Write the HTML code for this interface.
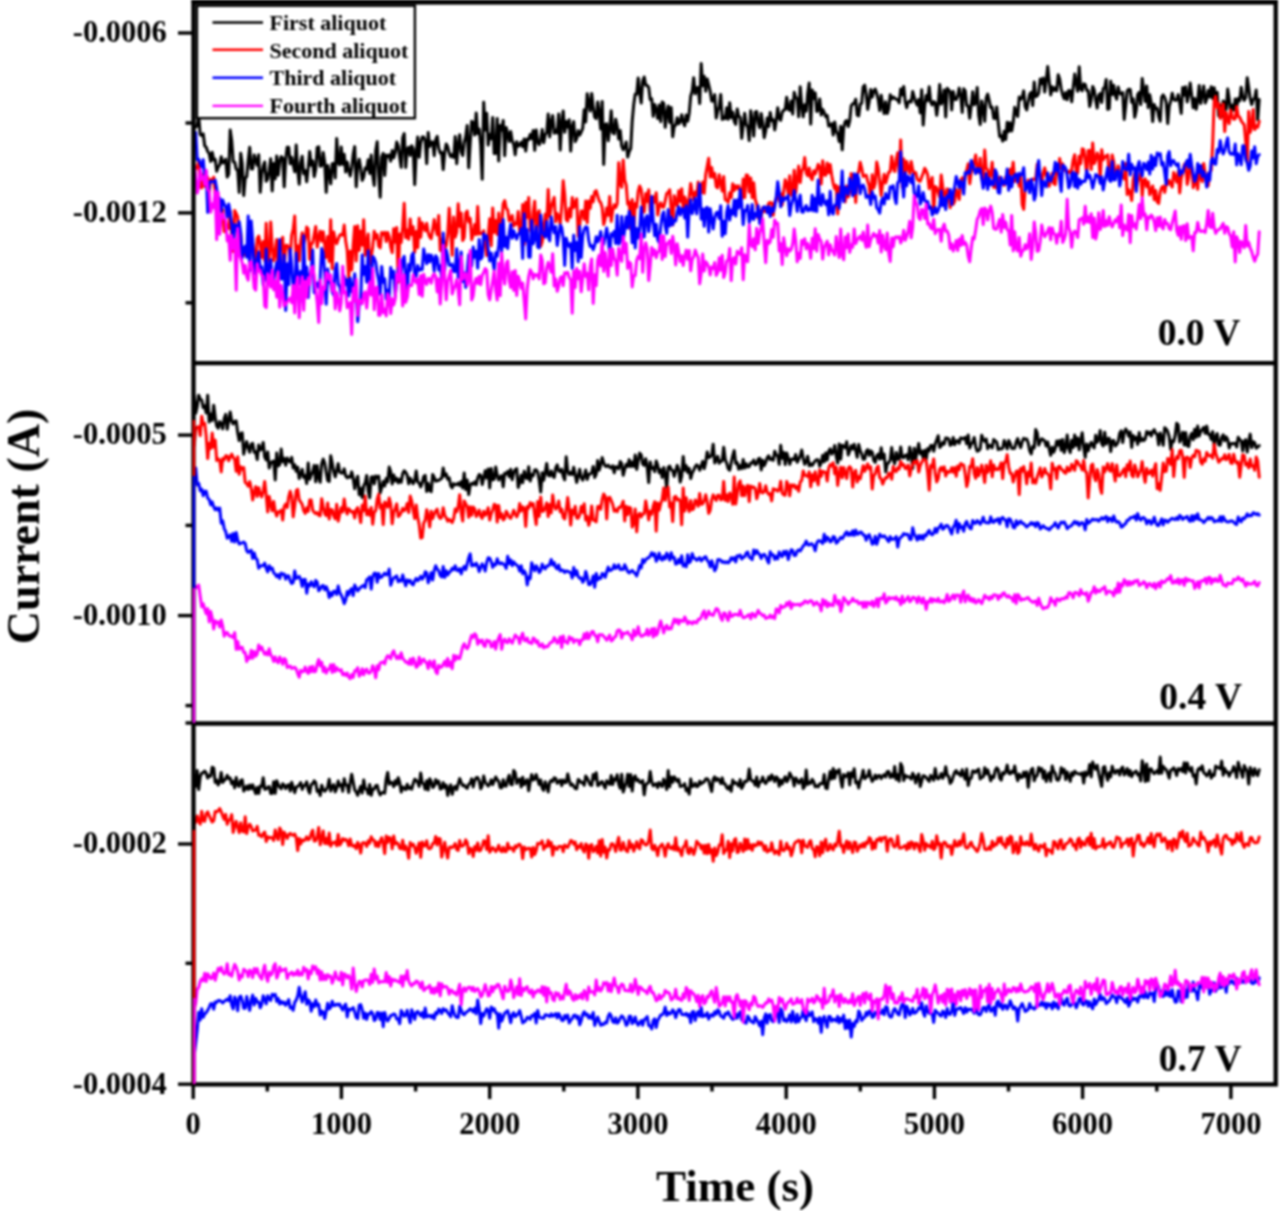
<!DOCTYPE html>
<html>
<head>
<meta charset="utf-8">
<style>
html,body{margin:0;padding:0;background:#fff;}
body{width:1280px;height:1211px;overflow:hidden;position:relative;}
svg{display:block;position:absolute;left:-10px;top:-10px;filter:blur(0.8px);}
text{font-family:"Liberation Serif",serif;font-weight:bold;fill:#000;}
</style>
</head>
<body>
<svg width="1300" height="1231" viewBox="-10 -10 1300 1231">
<defs>
<clipPath id="c1"><rect x="193.5" y="4.6" width="1080" height="356.5"/></clipPath>
<clipPath id="c2"><rect x="194" y="365" width="1080" height="357"/></clipPath>
<clipPath id="c3"><rect x="194" y="725.5" width="1080" height="357"/></clipPath>
</defs>
<rect x="-10" y="-10" width="1300" height="1231" fill="#fff"/>
<!-- data -->
<g fill="none" stroke-width="3.0" stroke-linejoin="round" stroke-linecap="round">
<path clip-path="url(#c1)" stroke="#000" d="M194.2 126.0L195.7 127.1 197.2 125.6 198.7 116.1 200.2 134.5 201.7 135.5 203.2 133.8 204.7 145.8 206.2 147.2 207.7 151.6 209.2 153.4 210.7 161.4 212.2 152.3 213.7 159.9 215.2 159.4 216.7 171.2 218.2 166.9 219.7 165.1 221.2 156.7 222.7 162.9 224.2 162.4 225.7 159.2 227.2 177.1 228.7 174.1 230.2 130.1 231.7 140.7 233.2 161.7 234.7 162.1 236.2 169.1 237.7 169.9 239.2 192.4 240.7 153.2 242.2 163.4 243.7 195.5 245.2 178.1 246.7 176.7 248.2 160.6 249.7 147.3 251.2 168.8 252.7 168.9 254.2 155.0 255.7 160.2 257.2 165.3 258.7 154.8 260.2 192.3 261.7 174.2 263.2 166.3 264.7 162.0 266.2 181.3 267.7 178.9 269.2 170.4 270.7 158.7 272.2 191.0 273.7 163.5 275.2 178.8 276.7 155.9 278.2 175.2 279.7 161.3 281.2 156.6 282.7 158.1 284.2 186.8 285.7 159.0 287.2 147.2 288.7 147.3 290.2 163.8 291.7 157.3 293.2 164.8 294.7 171.8 296.2 145.1 297.7 170.3 299.2 184.2 300.7 162.5 302.2 156.3 303.7 173.7 305.2 170.5 306.7 181.7 308.2 168.1 309.7 151.6 311.2 165.3 312.7 160.9 314.2 176.6 315.7 169.1 317.2 147.3 318.7 146.8 320.2 166.2 321.7 165.9 323.2 152.4 324.7 162.4 326.2 192.3 327.7 165.4 329.2 173.4 330.7 183.8 332.2 163.7 333.7 163.5 335.2 177.9 336.7 138.6 338.2 162.8 339.7 164.8 341.2 147.0 342.7 164.3 344.2 154.3 345.7 172.0 347.2 162.0 348.7 170.0 350.2 176.0 351.7 168.0 353.2 154.3 354.7 146.6 356.2 186.8 357.7 165.7 359.2 159.3 360.7 168.4 362.2 180.4 363.7 176.9 365.2 167.9 366.7 169.4 368.2 159.8 369.7 173.4 371.2 155.0 372.7 174.9 374.2 185.4 375.7 150.8 377.2 141.7 378.7 176.2 380.2 197.2 381.7 157.0 383.2 153.4 384.7 175.4 386.2 155.0 387.7 156.6 389.2 154.9 390.7 161.1 392.2 150.6 393.7 157.8 395.2 152.6 396.7 142.1 398.2 145.8 399.7 157.2 401.2 167.3 402.7 137.8 404.2 133.6 405.7 167.5 407.2 149.2 408.7 147.3 410.2 155.5 411.7 145.8 413.2 149.0 414.7 184.6 416.2 152.8 417.7 137.1 419.2 157.3 420.7 143.2 422.2 137.0 423.7 137.0 425.2 140.7 426.7 163.6 428.2 132.6 429.7 146.4 431.2 141.9 432.7 142.1 434.2 155.7 435.7 139.6 437.2 136.4 438.7 148.1 440.2 153.0 441.7 152.4 443.2 169.6 444.7 152.5 446.2 144.1 447.7 146.8 449.2 153.1 450.7 156.7 452.2 154.7 453.7 157.5 455.2 136.5 456.7 163.7 458.2 144.4 459.7 134.7 461.2 151.6 462.7 155.5 464.2 142.3 465.7 136.7 467.2 125.4 468.7 167.8 470.2 143.2 471.7 121.3 473.2 122.6 474.7 135.0 476.2 112.9 477.7 133.6 479.2 129.1 480.7 145.2 482.2 179.3 483.7 102.3 485.2 130.0 486.7 113.3 488.2 145.1 489.7 134.5 491.2 138.8 492.7 117.5 494.2 153.6 495.7 153.5 497.2 118.6 498.7 161.0 500.2 125.4 501.7 130.1 503.2 120.6 504.7 155.7 506.2 127.5 507.7 133.7 509.2 141.5 510.7 131.6 512.2 140.9 513.7 144.4 515.2 154.7 516.7 141.7 518.2 146.2 519.7 145.2 521.2 142.2 522.7 146.7 524.2 138.9 525.7 151.1 527.2 139.0 528.7 139.7 530.2 134.5 531.7 138.7 533.2 130.4 534.7 150.3 536.2 130.0 537.7 141.7 539.2 144.7 540.7 140.0 542.2 129.6 543.7 142.8 545.2 134.4 546.7 132.7 548.2 114.0 549.7 136.9 551.2 121.7 552.7 115.6 554.2 133.2 555.7 130.3 557.2 132.9 558.7 114.1 560.2 150.1 561.7 123.2 563.2 111.0 564.7 132.2 566.2 121.4 567.7 127.2 569.2 119.8 570.7 151.1 572.2 126.5 573.7 121.6 575.2 141.7 576.7 138.7 578.2 130.6 579.7 135.1 581.2 132.0 582.7 128.4 584.2 109.7 585.7 121.9 587.2 93.7 588.7 102.1 590.2 110.9 591.7 93.4 593.2 107.6 594.7 117.2 596.2 118.6 597.7 102.1 599.2 112.6 600.7 129.1 602.2 101.4 603.7 164.5 605.2 124.5 606.7 123.9 608.2 140.7 609.7 128.5 611.2 110.8 612.7 132.7 614.2 133.9 615.7 119.2 617.2 126.2 618.7 139.0 620.2 130.4 621.7 146.0 623.2 149.7 624.7 146.8 626.2 142.0 627.7 157.0 629.2 151.7 630.7 148.7 632.2 121.2 633.7 104.8 635.2 94.3 636.7 94.2 638.2 78.0 639.7 93.1 641.2 103.1 642.7 80.7 644.2 77.0 645.7 85.3 647.2 85.5 648.7 87.4 650.2 99.6 651.7 98.9 653.2 116.3 654.7 104.4 656.2 109.3 657.7 118.4 659.2 105.1 660.7 121.7 662.2 102.0 663.7 103.3 665.2 127.3 666.7 114.0 668.2 106.0 669.7 122.4 671.2 107.5 672.7 136.7 674.2 126.4 675.7 124.9 677.2 117.8 678.7 123.8 680.2 121.6 681.7 114.7 683.2 122.2 684.7 125.8 686.2 115.1 687.7 121.1 689.2 113.2 690.7 96.2 692.2 91.3 693.7 77.7 695.2 93.8 696.7 87.7 698.2 87.6 699.7 103.5 701.2 63.5 702.7 85.8 704.2 76.2 705.7 91.2 707.2 78.9 708.7 84.9 710.2 91.3 711.7 101.0 713.2 101.1 714.7 94.6 716.2 118.1 717.7 111.1 719.2 106.6 720.7 94.4 722.2 119.5 723.7 117.1 725.2 118.7 726.7 107.7 728.2 119.3 729.7 102.7 731.2 117.5 732.7 112.1 734.2 121.2 735.7 124.3 737.2 108.9 738.7 116.4 740.2 117.3 741.7 138.3 743.2 125.6 744.7 113.3 746.2 124.5 747.7 126.9 749.2 140.6 750.7 110.7 752.2 120.6 753.7 136.1 755.2 112.1 756.7 111.5 758.2 122.8 759.7 127.8 761.2 113.4 762.7 123.0 764.2 137.7 765.7 130.8 767.2 118.1 768.7 126.4 770.2 112.5 771.7 120.6 773.2 119.6 774.7 129.9 776.2 120.7 777.7 107.8 779.2 118.4 780.7 120.3 782.2 112.4 783.7 110.1 785.2 109.5 786.7 97.2 788.2 109.1 789.7 110.4 791.2 100.9 792.7 114.1 794.2 92.3 795.7 97.5 797.2 98.7 798.7 116.8 800.2 86.8 801.7 105.1 803.2 116.7 804.7 104.8 806.2 111.1 807.7 93.7 809.2 83.0 810.7 124.1 812.2 90.0 813.7 98.5 815.2 92.9 816.7 111.4 818.2 110.4 819.7 99.0 821.2 115.0 822.7 109.4 824.2 112.5 825.7 116.8 827.2 115.4 828.7 126.0 830.2 125.8 831.7 123.7 833.2 135.1 834.7 122.0 836.2 131.5 837.7 134.0 839.2 141.5 840.7 126.2 842.2 149.8 843.7 127.8 845.2 121.5 846.7 120.6 848.2 126.5 849.7 120.8 851.2 105.9 852.7 103.8 854.2 103.8 855.7 99.2 857.2 115.1 858.7 115.8 860.2 104.3 861.7 103.2 863.2 86.7 864.7 85.2 866.2 94.3 867.7 109.4 869.2 101.5 870.7 89.6 872.2 97.2 873.7 91.4 875.2 89.0 876.7 93.3 878.2 99.6 879.7 110.5 881.2 95.3 882.7 106.1 884.2 113.6 885.7 101.7 887.2 113.6 888.7 108.7 890.2 94.8 891.7 99.0 893.2 97.0 894.7 98.1 896.2 99.2 897.7 99.6 899.2 102.8 900.7 89.1 902.2 94.9 903.7 86.4 905.2 101.3 906.7 107.7 908.2 102.2 909.7 101.0 911.2 102.1 912.7 91.6 914.2 97.1 915.7 102.2 917.2 105.2 918.7 99.5 920.2 112.8 921.7 89.8 923.2 125.1 924.7 105.7 926.2 95.5 927.7 100.6 929.2 86.8 930.7 102.2 932.2 104.9 933.7 101.5 935.2 102.8 936.7 115.3 938.2 104.4 939.7 84.5 941.2 104.1 942.7 100.7 944.2 90.0 945.7 117.0 947.2 88.3 948.7 90.1 950.2 91.7 951.7 109.9 953.2 91.5 954.7 99.2 956.2 99.6 957.7 96.0 959.2 88.1 960.7 95.7 962.2 112.4 963.7 88.8 965.2 90.8 966.7 105.5 968.2 105.9 969.7 118.2 971.2 105.7 972.7 91.7 974.2 104.7 975.7 102.8 977.2 87.5 978.7 115.2 980.2 124.4 981.7 101.0 983.2 108.3 984.7 121.3 986.2 97.9 987.7 94.1 989.2 100.6 990.7 107.6 992.2 107.3 993.7 118.3 995.2 118.5 996.7 107.0 998.2 122.5 999.7 136.6 1001.2 135.9 1002.7 141.1 1004.2 131.2 1005.7 139.4 1007.2 122.3 1008.7 131.4 1010.2 122.7 1011.7 131.1 1013.2 122.4 1014.7 107.3 1016.2 113.2 1017.7 116.5 1019.2 97.0 1020.7 99.5 1022.2 97.0 1023.7 90.9 1025.2 106.7 1026.7 109.9 1028.2 101.7 1029.7 94.3 1031.2 92.4 1032.7 105.6 1034.2 82.0 1035.7 96.5 1037.2 95.9 1038.7 93.1 1040.2 79.1 1041.7 83.6 1043.2 78.0 1044.7 92.0 1046.2 80.3 1047.7 66.6 1049.2 81.4 1050.7 94.9 1052.2 86.8 1053.7 90.4 1055.2 87.7 1056.7 90.8 1058.2 74.8 1059.7 79.3 1061.2 89.0 1062.7 94.9 1064.2 98.8 1065.7 92.6 1067.2 99.7 1068.7 90.4 1070.2 90.9 1071.7 101.8 1073.2 87.2 1074.7 74.1 1076.2 83.5 1077.7 91.2 1079.2 66.8 1080.7 89.2 1082.2 90.7 1083.7 83.8 1085.2 84.3 1086.7 90.5 1088.2 90.6 1089.7 106.5 1091.2 100.0 1092.7 86.4 1094.2 90.0 1095.7 100.4 1097.2 108.1 1098.7 95.4 1100.2 93.5 1101.7 102.4 1103.2 88.6 1104.7 87.7 1106.2 79.5 1107.7 109.3 1109.2 108.6 1110.7 81.2 1112.2 94.6 1113.7 85.2 1115.2 95.2 1116.7 99.2 1118.2 87.0 1119.7 93.3 1121.2 94.3 1122.7 92.5 1124.2 119.4 1125.7 105.5 1127.2 91.0 1128.7 89.2 1130.2 89.5 1131.7 102.3 1133.2 98.8 1134.7 117.3 1136.2 110.4 1137.7 94.5 1139.2 92.4 1140.7 104.6 1142.2 78.6 1143.7 89.4 1145.2 101.6 1146.7 85.9 1148.2 107.7 1149.7 94.8 1151.2 102.6 1152.7 121.6 1154.2 104.6 1155.7 108.7 1157.2 108.3 1158.7 116.5 1160.2 121.2 1161.7 97.0 1163.2 94.9 1164.7 97.4 1166.2 102.5 1167.7 123.5 1169.2 106.4 1170.7 101.1 1172.2 93.2 1173.7 99.1 1175.2 100.5 1176.7 99.8 1178.2 94.6 1179.7 102.9 1181.2 113.4 1182.7 87.5 1184.2 95.3 1185.7 86.8 1187.2 101.9 1188.7 94.4 1190.2 83.1 1191.7 95.4 1193.2 107.8 1194.7 98.5 1196.2 109.3 1197.7 100.6 1199.2 85.5 1200.7 103.4 1202.2 94.8 1203.7 86.0 1205.2 102.9 1206.7 99.2 1208.2 90.4 1209.7 97.0 1211.2 86.7 1212.7 98.6 1214.2 87.7 1215.7 102.8 1217.2 92.2 1218.7 116.0 1220.2 104.9 1221.7 116.5 1223.2 101.0 1224.7 102.9 1226.2 109.3 1227.7 89.1 1229.2 99.2 1230.7 111.2 1232.2 105.1 1233.7 110.1 1235.2 99.0 1236.7 106.7 1238.2 98.4 1239.7 100.8 1241.2 87.2 1242.7 96.7 1244.2 100.4 1245.7 97.6 1247.2 77.7 1248.7 87.4 1250.2 98.7 1251.7 104.5 1253.2 99.6 1254.7 98.1 1256.2 90.0 1257.7 119.7 1259.2 99.6"/>
<path clip-path="url(#c1)" stroke="#f00" d="M194.2 170.7L195.7 167.4 197.2 168.3 198.7 161.3 200.2 186.5 201.7 187.8 203.2 174.5 204.7 186.3 206.2 182.9 207.7 177.3 209.2 191.6 210.7 179.6 212.2 180.4 213.7 177.2 215.2 193.9 216.7 197.2 218.2 208.6 219.7 226.4 221.2 220.1 222.7 209.5 224.2 231.7 225.7 224.3 227.2 224.9 228.7 228.5 230.2 211.0 231.7 236.5 233.2 251.4 234.7 210.6 236.2 213.6 237.7 217.1 239.2 246.0 240.7 233.5 242.2 253.7 243.7 255.4 245.2 251.4 246.7 252.2 248.2 247.4 249.7 258.6 251.2 234.2 252.7 243.4 254.2 252.8 255.7 270.3 257.2 238.7 258.7 236.1 260.2 244.0 261.7 257.5 263.2 241.4 264.7 260.8 266.2 223.2 267.7 261.1 269.2 259.7 270.7 221.9 272.2 247.2 273.7 260.7 275.2 250.3 276.7 239.5 278.2 278.8 279.7 252.8 281.2 245.0 282.7 237.3 284.2 270.3 285.7 245.4 287.2 245.3 288.7 247.8 290.2 256.9 291.7 235.1 293.2 229.4 294.7 216.0 296.2 262.1 297.7 245.8 299.2 260.7 300.7 241.0 302.2 232.8 303.7 244.2 305.2 238.7 306.7 227.0 308.2 229.1 309.7 259.4 311.2 243.6 312.7 243.0 314.2 234.6 315.7 226.4 317.2 247.1 318.7 237.7 320.2 231.1 321.7 241.3 323.2 231.8 324.7 244.4 326.2 257.5 327.7 236.4 329.2 261.5 330.7 219.7 332.2 268.7 333.7 232.0 335.2 239.6 336.7 243.7 338.2 239.1 339.7 235.3 341.2 234.4 342.7 235.3 344.2 225.1 345.7 241.3 347.2 250.0 348.7 277.7 350.2 251.2 351.7 270.0 353.2 245.2 354.7 226.5 356.2 260.9 357.7 225.7 359.2 250.5 360.7 231.0 362.2 245.2 363.7 219.7 365.2 255.3 366.7 242.2 368.2 234.0 369.7 264.4 371.2 256.9 372.7 247.0 374.2 231.3 375.7 238.3 377.2 234.6 378.7 246.0 380.2 247.9 381.7 232.4 383.2 234.5 384.7 232.3 386.2 241.5 387.7 232.5 389.2 237.0 390.7 246.9 392.2 252.6 393.7 228.8 395.2 242.2 396.7 227.6 398.2 282.1 399.7 234.0 401.2 242.4 402.7 226.9 404.2 203.2 405.7 237.7 407.2 229.9 408.7 239.2 410.2 218.9 411.7 234.5 413.2 226.8 414.7 252.2 416.2 231.5 417.7 247.6 419.2 218.3 420.7 237.3 422.2 222.7 423.7 227.2 425.2 230.7 426.7 223.3 428.2 232.8 429.7 237.0 431.2 238.6 432.7 229.6 434.2 219.6 435.7 228.3 437.2 234.7 438.7 215.5 440.2 250.5 441.7 240.0 443.2 238.4 444.7 248.6 446.2 245.6 447.7 234.5 449.2 208.2 450.7 230.9 452.2 255.3 453.7 217.1 455.2 237.2 456.7 232.0 458.2 203.8 459.7 226.5 461.2 213.1 462.7 240.6 464.2 237.6 465.7 213.3 467.2 211.0 468.7 221.9 470.2 218.3 471.7 239.7 473.2 234.6 474.7 224.5 476.2 234.6 477.7 206.5 479.2 234.1 480.7 233.2 482.2 233.6 483.7 230.7 485.2 243.4 486.7 255.6 488.2 235.5 489.7 218.7 491.2 245.7 492.7 207.9 494.2 232.4 495.7 220.6 497.2 234.5 498.7 213.0 500.2 239.2 501.7 225.0 503.2 203.9 504.7 200.5 506.2 208.2 507.7 209.9 509.2 220.8 510.7 219.5 512.2 215.5 513.7 226.0 515.2 223.0 516.7 224.2 518.2 211.6 519.7 232.6 521.2 234.4 522.7 204.4 524.2 244.5 525.7 202.2 527.2 217.4 528.7 197.4 530.2 229.5 531.7 233.4 533.2 212.1 534.7 201.2 536.2 232.5 537.7 214.2 539.2 210.7 540.7 246.4 542.2 241.9 543.7 231.4 545.2 214.2 546.7 223.3 548.2 189.4 549.7 216.4 551.2 207.1 552.7 202.3 554.2 197.4 555.7 221.8 557.2 213.6 558.7 216.5 560.2 224.2 561.7 206.6 563.2 180.8 564.7 194.7 566.2 219.7 567.7 221.0 569.2 208.5 570.7 217.1 572.2 197.5 573.7 207.6 575.2 202.7 576.7 198.9 578.2 236.2 579.7 225.1 581.2 211.1 582.7 211.3 584.2 219.2 585.7 200.9 587.2 222.8 588.7 200.9 590.2 208.3 591.7 196.4 593.2 201.9 594.7 191.8 596.2 190.6 597.7 195.9 599.2 200.9 600.7 202.6 602.2 207.6 603.7 224.5 605.2 218.7 606.7 207.9 608.2 215.3 609.7 196.6 611.2 221.4 612.7 210.8 614.2 204.8 615.7 207.5 617.2 203.8 618.7 162.7 620.2 183.6 621.7 187.3 623.2 160.0 624.7 180.2 626.2 185.1 627.7 204.2 629.2 202.0 630.7 229.2 632.2 199.5 633.7 231.6 635.2 203.5 636.7 207.1 638.2 191.3 639.7 186.0 641.2 189.6 642.7 204.4 644.2 212.0 645.7 193.5 647.2 201.6 648.7 189.7 650.2 211.7 651.7 211.3 653.2 196.7 654.7 202.2 656.2 192.8 657.7 215.0 659.2 206.8 660.7 202.8 662.2 206.8 663.7 207.2 665.2 200.9 666.7 193.5 668.2 192.5 669.7 189.7 671.2 209.7 672.7 225.1 674.2 195.7 675.7 201.7 677.2 206.0 678.7 190.8 680.2 201.4 681.7 188.7 683.2 209.8 684.7 197.0 686.2 201.8 687.7 207.7 689.2 197.2 690.7 183.5 692.2 192.7 693.7 200.0 695.2 191.9 696.7 195.5 698.2 181.9 699.7 190.2 701.2 192.9 702.7 182.1 704.2 193.3 705.7 174.5 707.2 166.2 708.7 158.3 710.2 177.1 711.7 167.5 713.2 177.3 714.7 173.5 716.2 186.7 717.7 187.8 719.2 174.7 720.7 182.4 722.2 191.0 723.7 176.6 725.2 199.6 726.7 200.3 728.2 202.3 729.7 192.7 731.2 197.5 732.7 183.8 734.2 190.5 735.7 185.7 737.2 188.4 738.7 185.8 740.2 191.6 741.7 199.2 743.2 179.0 744.7 197.6 746.2 175.0 747.7 175.2 749.2 192.0 750.7 177.9 752.2 197.7 753.7 182.7 755.2 199.5 756.7 204.0 758.2 218.1 759.7 210.2 761.2 217.1 762.7 207.5 764.2 211.5 765.7 211.3 767.2 209.2 768.7 203.1 770.2 202.5 771.7 203.1 773.2 215.2 774.7 202.6 776.2 198.2 777.7 191.9 779.2 200.9 780.7 193.6 782.2 204.9 783.7 190.7 785.2 179.7 786.7 184.3 788.2 193.6 789.7 175.8 791.2 195.3 792.7 191.1 794.2 170.2 795.7 192.7 797.2 180.3 798.7 166.1 800.2 182.5 801.7 170.8 803.2 168.7 804.7 157.6 806.2 173.1 807.7 175.7 809.2 168.0 810.7 177.5 812.2 179.6 813.7 170.8 815.2 174.0 816.7 169.4 818.2 164.4 819.7 167.2 821.2 184.0 822.7 160.7 824.2 174.9 825.7 175.2 827.2 162.9 828.7 172.8 830.2 164.6 831.7 175.2 833.2 183.5 834.7 188.8 836.2 185.4 837.7 214.0 839.2 186.9 840.7 194.1 842.2 190.4 843.7 191.9 845.2 201.9 846.7 186.1 848.2 197.0 849.7 191.5 851.2 173.4 852.7 189.4 854.2 175.2 855.7 202.4 857.2 174.7 858.7 171.7 860.2 162.3 861.7 168.3 863.2 176.5 864.7 175.6 866.2 175.2 867.7 181.2 869.2 185.8 870.7 202.2 872.2 174.7 873.7 188.0 875.2 183.2 876.7 162.1 878.2 168.7 879.7 182.0 881.2 195.5 882.7 182.7 884.2 174.2 885.7 182.9 887.2 177.6 888.7 172.1 890.2 171.7 891.7 156.3 893.2 167.5 894.7 171.5 896.2 159.3 897.7 152.8 899.2 173.2 900.7 139.9 902.2 187.3 903.7 158.9 905.2 174.2 906.7 161.5 908.2 168.2 909.7 173.4 911.2 161.4 912.7 169.9 914.2 173.9 915.7 172.5 917.2 178.9 918.7 180.8 920.2 181.2 921.7 176.9 923.2 173.2 924.7 168.2 926.2 170.7 927.7 175.0 929.2 188.7 930.7 182.5 932.2 177.5 933.7 212.8 935.2 186.5 936.7 187.8 938.2 192.3 939.7 197.4 941.2 175.1 942.7 186.4 944.2 195.5 945.7 195.0 947.2 188.9 948.7 191.3 950.2 207.7 951.7 193.8 953.2 204.4 954.7 201.4 956.2 189.5 957.7 193.2 959.2 199.5 960.7 180.2 962.2 177.8 963.7 188.5 965.2 175.9 966.7 170.0 968.2 163.8 969.7 183.7 971.2 172.4 972.7 167.0 974.2 162.3 975.7 154.9 977.2 170.9 978.7 172.4 980.2 158.2 981.7 178.7 983.2 179.7 984.7 150.1 986.2 168.3 987.7 169.9 989.2 177.4 990.7 174.4 992.2 162.2 993.7 187.5 995.2 178.8 996.7 188.3 998.2 188.5 999.7 177.0 1001.2 181.3 1002.7 183.4 1004.2 185.3 1005.7 177.1 1007.2 175.4 1008.7 177.4 1010.2 169.2 1011.7 174.5 1013.2 162.3 1014.7 181.5 1016.2 174.8 1017.7 178.9 1019.2 186.2 1020.7 175.1 1022.2 204.5 1023.7 209.4 1025.2 187.6 1026.7 187.8 1028.2 179.9 1029.7 187.2 1031.2 179.8 1032.7 179.0 1034.2 179.5 1035.7 178.9 1037.2 164.3 1038.7 171.6 1040.2 175.0 1041.7 184.7 1043.2 172.2 1044.7 167.9 1046.2 175.5 1047.7 177.5 1049.2 186.2 1050.7 179.5 1052.2 173.3 1053.7 183.6 1055.2 184.6 1056.7 168.2 1058.2 173.8 1059.7 158.5 1061.2 168.6 1062.7 163.8 1064.2 169.1 1065.7 171.0 1067.2 172.6 1068.7 171.2 1070.2 172.9 1071.7 169.7 1073.2 159.8 1074.7 154.7 1076.2 170.9 1077.7 173.1 1079.2 156.2 1080.7 163.7 1082.2 148.8 1083.7 149.3 1085.2 160.2 1086.7 174.0 1088.2 150.6 1089.7 150.6 1091.2 169.4 1092.7 142.9 1094.2 163.6 1095.7 159.7 1097.2 152.9 1098.7 156.6 1100.2 179.0 1101.7 149.7 1103.2 159.8 1104.7 157.2 1106.2 156.0 1107.7 154.8 1109.2 175.3 1110.7 173.2 1112.2 155.0 1113.7 161.5 1115.2 174.9 1116.7 175.6 1118.2 165.8 1119.7 174.5 1121.2 174.8 1122.7 175.7 1124.2 178.9 1125.7 163.5 1127.2 194.6 1128.7 189.8 1130.2 192.6 1131.7 200.5 1133.2 179.9 1134.7 173.1 1136.2 190.1 1137.7 180.9 1139.2 178.8 1140.7 173.2 1142.2 196.0 1143.7 180.6 1145.2 178.9 1146.7 186.7 1148.2 181.7 1149.7 194.7 1151.2 190.2 1152.7 186.0 1154.2 199.7 1155.7 190.6 1157.2 202.0 1158.7 203.4 1160.2 192.0 1161.7 187.4 1163.2 186.3 1164.7 192.4 1166.2 183.4 1167.7 184.3 1169.2 180.5 1170.7 184.2 1172.2 187.0 1173.7 172.5 1175.2 176.4 1176.7 182.1 1178.2 171.8 1179.7 192.9 1181.2 178.7 1182.7 172.8 1184.2 164.7 1185.7 163.0 1187.2 184.4 1188.7 177.7 1190.2 162.1 1191.7 166.0 1193.2 187.7 1194.7 183.6 1196.2 176.9 1197.7 189.2 1199.2 167.9 1200.7 177.4 1202.2 181.6 1203.7 163.4 1205.2 173.9 1206.7 184.3 1208.2 185.7 1209.7 171.9 1211.2 170.3 1212.7 143.8 1214.2 100.3 1215.7 96.4 1217.2 107.5 1218.7 103.3 1220.2 118.4 1221.7 109.1 1223.2 104.0 1224.7 131.6 1226.2 112.6 1227.7 119.3 1229.2 123.7 1230.7 110.0 1232.2 116.7 1233.7 119.3 1235.2 118.7 1236.7 106.4 1238.2 116.2 1239.7 117.2 1241.2 120.8 1242.7 123.0 1244.2 124.7 1245.7 141.4 1247.2 162.4 1248.7 111.6 1250.2 132.4 1251.7 126.3 1253.2 109.6 1254.7 129.6 1256.2 126.0 1257.7 127.2 1259.2 121.3"/>
<path clip-path="url(#c1)" stroke="#00f" d="M194.2 139.7L195.7 132.4 197.2 159.7 198.7 159.2 200.2 163.8 201.7 166.8 203.2 159.6 204.7 176.8 206.2 171.6 207.7 212.4 209.2 183.4 210.7 181.3 212.2 181.7 213.7 181.9 215.2 180.2 216.7 188.9 218.2 202.0 219.7 198.2 221.2 211.2 222.7 199.9 224.2 204.2 225.7 206.6 227.2 216.9 228.7 204.0 230.2 213.0 231.7 224.8 233.2 246.8 234.7 224.5 236.2 225.7 237.7 233.0 239.2 221.8 240.7 232.5 242.2 258.1 243.7 248.1 245.2 246.1 246.7 257.2 248.2 215.9 249.7 270.8 251.2 221.0 252.7 241.4 254.2 267.4 255.7 274.4 257.2 258.4 258.7 251.9 260.2 268.7 261.7 266.9 263.2 285.0 264.7 278.7 266.2 249.1 267.7 283.6 269.2 266.9 270.7 259.6 272.2 279.1 273.7 280.2 275.2 269.8 276.7 262.6 278.2 272.9 279.7 239.4 281.2 278.9 282.7 278.9 284.2 255.0 285.7 310.4 287.2 263.7 288.7 284.6 290.2 249.0 291.7 265.9 293.2 288.4 294.7 294.4 296.2 252.9 297.7 272.9 299.2 283.8 300.7 271.6 302.2 300.4 303.7 235.8 305.2 286.2 306.7 267.1 308.2 297.6 309.7 275.3 311.2 269.9 312.7 250.1 314.2 292.8 315.7 283.0 317.2 283.2 318.7 287.4 320.2 277.9 321.7 248.4 323.2 253.4 324.7 273.7 326.2 304.2 327.7 269.1 329.2 281.0 330.7 283.2 332.2 291.9 333.7 295.0 335.2 269.7 336.7 263.5 338.2 284.3 339.7 286.5 341.2 295.3 342.7 280.5 344.2 276.2 345.7 284.8 347.2 279.6 348.7 295.9 350.2 278.1 351.7 291.7 353.2 290.0 354.7 273.8 356.2 295.1 357.7 321.7 359.2 304.6 360.7 301.3 362.2 254.9 363.7 274.5 365.2 266.5 366.7 282.2 368.2 250.7 369.7 288.3 371.2 284.8 372.7 256.4 374.2 258.3 375.7 262.4 377.2 272.7 378.7 280.1 380.2 294.2 381.7 266.4 383.2 282.3 384.7 278.9 386.2 298.9 387.7 290.3 389.2 296.8 390.7 267.5 392.2 277.5 393.7 271.3 395.2 296.4 396.7 282.4 398.2 268.2 399.7 266.7 401.2 274.3 402.7 259.9 404.2 256.3 405.7 274.5 407.2 295.7 408.7 264.5 410.2 270.6 411.7 255.5 413.2 253.1 414.7 275.1 416.2 276.2 417.7 265.6 419.2 270.4 420.7 268.7 422.2 269.6 423.7 248.9 425.2 257.2 426.7 263.7 428.2 254.6 429.7 261.8 431.2 255.1 432.7 258.9 434.2 271.3 435.7 255.8 437.2 258.1 438.7 270.1 440.2 265.7 441.7 279.2 443.2 233.0 444.7 270.3 446.2 250.1 447.7 256.3 449.2 265.0 450.7 265.6 452.2 264.2 453.7 271.5 455.2 271.6 456.7 248.7 458.2 277.2 459.7 265.4 461.2 252.1 462.7 281.5 464.2 272.7 465.7 287.4 467.2 271.2 468.7 254.8 470.2 262.4 471.7 265.9 473.2 247.0 474.7 257.2 476.2 251.1 477.7 268.1 479.2 239.4 480.7 259.1 482.2 256.9 483.7 233.8 485.2 238.4 486.7 235.9 488.2 249.2 489.7 261.1 491.2 252.9 492.7 260.7 494.2 269.7 495.7 252.8 497.2 256.3 498.7 245.7 500.2 224.4 501.7 251.3 503.2 219.6 504.7 246.5 506.2 237.3 507.7 248.5 509.2 233.5 510.7 224.3 512.2 238.3 513.7 230.7 515.2 235.4 516.7 239.1 518.2 234.3 519.7 233.2 521.2 228.6 522.7 258.5 524.2 213.8 525.7 240.7 527.2 229.4 528.7 257.1 530.2 257.2 531.7 220.4 533.2 243.9 534.7 238.7 536.2 226.6 537.7 247.2 539.2 247.9 540.7 215.1 542.2 231.5 543.7 235.0 545.2 237.1 546.7 221.5 548.2 236.3 549.7 240.9 551.2 217.1 552.7 226.4 554.2 232.7 555.7 226.5 557.2 245.5 558.7 235.7 560.2 225.1 561.7 227.6 563.2 238.3 564.7 265.5 566.2 238.2 567.7 243.7 569.2 246.8 570.7 243.6 572.2 268.3 573.7 235.2 575.2 250.4 576.7 242.4 578.2 261.7 579.7 226.5 581.2 257.6 582.7 236.2 584.2 229.4 585.7 226.9 587.2 227.5 588.7 240.1 590.2 246.4 591.7 245.6 593.2 249.8 594.7 245.3 596.2 236.7 597.7 241.9 599.2 238.6 600.7 231.5 602.2 242.1 603.7 244.3 605.2 235.9 606.7 227.9 608.2 238.8 609.7 254.7 611.2 233.8 612.7 236.0 614.2 231.4 615.7 243.5 617.2 215.3 618.7 244.2 620.2 241.0 621.7 216.4 623.2 240.6 624.7 229.9 626.2 216.8 627.7 228.0 629.2 211.4 630.7 218.2 632.2 242.8 633.7 217.0 635.2 248.0 636.7 228.5 638.2 238.0 639.7 228.9 641.2 207.0 642.7 222.2 644.2 237.0 645.7 218.2 647.2 215.6 648.7 231.6 650.2 221.2 651.7 196.6 653.2 221.1 654.7 235.8 656.2 224.2 657.7 239.7 659.2 242.6 660.7 226.4 662.2 215.3 663.7 211.8 665.2 226.3 666.7 233.3 668.2 209.5 669.7 226.0 671.2 217.1 672.7 224.8 674.2 220.1 675.7 220.9 677.2 212.0 678.7 206.7 680.2 215.1 681.7 208.8 683.2 209.0 684.7 217.9 686.2 205.8 687.7 237.1 689.2 210.1 690.7 199.8 692.2 213.7 693.7 208.4 695.2 198.3 696.7 213.9 698.2 201.4 699.7 183.9 701.2 219.1 702.7 209.1 704.2 226.3 705.7 208.4 707.2 207.3 708.7 232.1 710.2 208.8 711.7 218.0 713.2 228.9 714.7 217.9 716.2 212.9 717.7 212.2 719.2 218.5 720.7 205.8 722.2 236.3 723.7 221.2 725.2 233.7 726.7 212.2 728.2 205.6 729.7 220.1 731.2 210.0 732.7 214.2 734.2 200.1 735.7 216.0 737.2 199.9 738.7 207.9 740.2 189.3 741.7 204.4 743.2 224.7 744.7 210.5 746.2 210.7 747.7 205.4 749.2 222.4 750.7 218.1 752.2 204.4 753.7 219.6 755.2 213.5 756.7 216.2 758.2 205.7 759.7 223.6 761.2 213.5 762.7 208.5 764.2 206.7 765.7 207.3 767.2 212.7 768.7 206.4 770.2 216.5 771.7 207.9 773.2 211.5 774.7 206.8 776.2 196.9 777.7 181.8 779.2 191.8 780.7 206.8 782.2 197.8 783.7 200.6 785.2 197.7 786.7 198.6 788.2 195.4 789.7 215.5 791.2 205.8 792.7 199.9 794.2 190.5 795.7 199.5 797.2 211.4 798.7 201.9 800.2 195.1 801.7 211.9 803.2 212.3 804.7 208.0 806.2 205.5 807.7 210.8 809.2 208.6 810.7 210.1 812.2 195.2 813.7 210.9 815.2 198.3 816.7 211.6 818.2 180.1 819.7 203.3 821.2 205.4 822.7 194.4 824.2 202.1 825.7 204.6 827.2 200.7 828.7 214.8 830.2 191.3 831.7 211.8 833.2 214.1 834.7 205.1 836.2 204.6 837.7 194.1 839.2 208.4 840.7 195.7 842.2 171.1 843.7 201.6 845.2 187.3 846.7 189.5 848.2 194.6 849.7 178.4 851.2 183.4 852.7 195.8 854.2 173.7 855.7 193.5 857.2 174.5 858.7 178.9 860.2 193.7 861.7 186.2 863.2 185.0 864.7 188.7 866.2 197.6 867.7 195.7 869.2 196.2 870.7 204.5 872.2 191.8 873.7 198.0 875.2 196.1 876.7 207.7 878.2 209.7 879.7 213.1 881.2 201.5 882.7 198.1 884.2 204.1 885.7 193.6 887.2 198.3 888.7 198.5 890.2 186.7 891.7 187.6 893.2 185.7 894.7 197.8 896.2 203.6 897.7 182.7 899.2 181.1 900.7 151.7 902.2 182.4 903.7 197.0 905.2 172.7 906.7 185.8 908.2 176.4 909.7 178.4 911.2 182.8 912.7 174.5 914.2 192.8 915.7 197.2 917.2 196.1 918.7 185.7 920.2 204.1 921.7 200.2 923.2 192.5 924.7 200.3 926.2 202.0 927.7 201.5 929.2 208.2 930.7 206.9 932.2 215.1 933.7 211.8 935.2 207.5 936.7 213.1 938.2 210.4 939.7 205.9 941.2 191.1 942.7 205.8 944.2 198.0 945.7 209.6 947.2 195.7 948.7 197.3 950.2 189.5 951.7 204.6 953.2 193.5 954.7 186.3 956.2 176.4 957.7 181.6 959.2 187.6 960.7 180.9 962.2 184.1 963.7 194.1 965.2 172.7 966.7 173.6 968.2 171.4 969.7 173.2 971.2 160.4 972.7 164.5 974.2 169.8 975.7 173.7 977.2 168.5 978.7 171.8 980.2 168.9 981.7 178.7 983.2 188.3 984.7 182.2 986.2 173.6 987.7 189.4 989.2 178.3 990.7 184.8 992.2 181.2 993.7 184.9 995.2 169.8 996.7 173.6 998.2 192.6 999.7 193.2 1001.2 177.4 1002.7 184.0 1004.2 180.8 1005.7 183.9 1007.2 169.0 1008.7 190.3 1010.2 176.2 1011.7 186.9 1013.2 177.8 1014.7 175.0 1016.2 174.1 1017.7 182.2 1019.2 173.3 1020.7 175.2 1022.2 174.0 1023.7 167.7 1025.2 190.7 1026.7 186.3 1028.2 182.0 1029.7 192.8 1031.2 179.6 1032.7 185.5 1034.2 200.1 1035.7 194.8 1037.2 170.0 1038.7 160.5 1040.2 179.0 1041.7 195.6 1043.2 181.2 1044.7 184.5 1046.2 186.8 1047.7 172.9 1049.2 180.3 1050.7 181.2 1052.2 176.3 1053.7 173.5 1055.2 162.3 1056.7 170.8 1058.2 163.7 1059.7 179.4 1061.2 191.4 1062.7 165.2 1064.2 166.2 1065.7 168.3 1067.2 175.4 1068.7 187.9 1070.2 185.5 1071.7 174.0 1073.2 172.1 1074.7 186.7 1076.2 173.4 1077.7 188.3 1079.2 179.3 1080.7 184.3 1082.2 181.1 1083.7 181.5 1085.2 181.2 1086.7 170.5 1088.2 177.7 1089.7 175.2 1091.2 180.6 1092.7 188.2 1094.2 182.0 1095.7 174.6 1097.2 175.4 1098.7 177.1 1100.2 183.3 1101.7 176.9 1103.2 190.1 1104.7 181.6 1106.2 175.2 1107.7 167.4 1109.2 179.8 1110.7 181.5 1112.2 161.6 1113.7 179.9 1115.2 179.8 1116.7 170.9 1118.2 170.8 1119.7 186.1 1121.2 177.9 1122.7 161.4 1124.2 168.1 1125.7 169.4 1127.2 169.9 1128.7 154.2 1130.2 174.9 1131.7 164.3 1133.2 168.7 1134.7 167.8 1136.2 191.5 1137.7 166.3 1139.2 161.5 1140.7 171.1 1142.2 176.0 1143.7 163.2 1145.2 164.9 1146.7 169.6 1148.2 162.0 1149.7 174.1 1151.2 155.2 1152.7 169.0 1154.2 157.8 1155.7 165.6 1157.2 152.9 1158.7 154.9 1160.2 153.5 1161.7 164.9 1163.2 162.6 1164.7 172.9 1166.2 184.3 1167.7 155.7 1169.2 151.6 1170.7 165.8 1172.2 161.1 1173.7 160.5 1175.2 163.8 1176.7 165.5 1178.2 163.6 1179.7 175.3 1181.2 170.9 1182.7 172.8 1184.2 166.6 1185.7 163.8 1187.2 160.4 1188.7 167.5 1190.2 154.3 1191.7 165.4 1193.2 174.4 1194.7 181.4 1196.2 178.0 1197.7 163.6 1199.2 172.5 1200.7 165.5 1202.2 176.5 1203.7 171.4 1205.2 176.2 1206.7 187.1 1208.2 173.6 1209.7 180.2 1211.2 161.2 1212.7 158.1 1214.2 163.7 1215.7 164.3 1217.2 149.4 1218.7 152.4 1220.2 140.6 1221.7 149.1 1223.2 154.0 1224.7 150.1 1226.2 143.0 1227.7 137.9 1229.2 151.8 1230.7 154.2 1232.2 153.4 1233.7 154.4 1235.2 144.1 1236.7 164.9 1238.2 153.7 1239.7 157.6 1241.2 164.7 1242.7 145.8 1244.2 145.9 1245.7 159.7 1247.2 163.0 1248.7 170.2 1250.2 166.0 1251.7 151.0 1253.2 158.0 1254.7 146.8 1256.2 163.8 1257.7 156.4 1259.2 154.6"/>
<path clip-path="url(#c1)" stroke="#f0f" d="M194.2 164.7L195.7 175.8 197.2 193.1 198.7 186.8 200.2 169.5 201.7 179.2 203.2 176.8 204.7 184.9 206.2 170.2 207.7 189.3 209.2 191.5 210.7 212.2 212.2 204.0 213.7 207.8 215.2 190.7 216.7 239.6 218.2 192.6 219.7 234.3 221.2 217.3 222.7 213.9 224.2 218.5 225.7 220.0 227.2 241.0 228.7 236.0 230.2 260.3 231.7 235.4 233.2 248.7 234.7 239.4 236.2 290.2 237.7 228.6 239.2 254.7 240.7 257.9 242.2 262.9 243.7 273.3 245.2 265.3 246.7 276.4 248.2 280.2 249.7 262.3 251.2 261.5 252.7 270.0 254.2 287.9 255.7 290.1 257.2 263.8 258.7 271.3 260.2 270.3 261.7 275.5 263.2 276.3 264.7 305.9 266.2 307.6 267.7 273.8 269.2 277.5 270.7 287.0 272.2 269.9 273.7 289.8 275.2 281.0 276.7 297.2 278.2 271.8 279.7 307.2 281.2 285.6 282.7 292.7 284.2 306.1 285.7 304.2 287.2 301.9 288.7 299.6 290.2 298.0 291.7 302.8 293.2 285.3 294.7 313.0 296.2 286.0 297.7 277.1 299.2 317.7 300.7 292.8 302.2 276.8 303.7 310.3 305.2 281.2 306.7 297.3 308.2 277.7 309.7 284.6 311.2 268.1 312.7 266.2 314.2 275.8 315.7 289.6 317.2 302.7 318.7 322.5 320.2 279.9 321.7 303.7 323.2 286.9 324.7 289.2 326.2 272.5 327.7 273.8 329.2 280.0 330.7 275.0 332.2 291.0 333.7 283.6 335.2 308.9 336.7 292.6 338.2 298.3 339.7 310.9 341.2 302.5 342.7 266.3 344.2 293.1 345.7 292.0 347.2 307.8 348.7 303.9 350.2 302.7 351.7 334.4 353.2 288.1 354.7 301.2 356.2 279.6 357.7 315.6 359.2 300.4 360.7 300.3 362.2 303.7 363.7 293.8 365.2 291.8 366.7 308.0 368.2 293.7 369.7 282.0 371.2 295.1 372.7 268.5 374.2 309.8 375.7 288.2 377.2 287.0 378.7 315.3 380.2 315.2 381.7 294.7 383.2 312.6 384.7 309.2 386.2 315.9 387.7 293.8 389.2 297.9 390.7 313.5 392.2 298.8 393.7 304.9 395.2 298.9 396.7 274.4 398.2 280.4 399.7 259.2 401.2 280.1 402.7 306.0 404.2 274.8 405.7 302.4 407.2 297.6 408.7 285.5 410.2 285.6 411.7 285.5 413.2 274.7 414.7 280.6 416.2 282.7 417.7 278.8 419.2 294.5 420.7 275.4 422.2 296.3 423.7 274.2 425.2 281.0 426.7 284.5 428.2 278.5 429.7 278.8 431.2 283.2 432.7 275.7 434.2 273.8 435.7 276.5 437.2 291.9 438.7 278.7 440.2 304.1 441.7 284.2 443.2 245.2 444.7 277.0 446.2 299.8 447.7 281.4 449.2 275.9 450.7 270.4 452.2 294.0 453.7 288.9 455.2 285.4 456.7 279.5 458.2 290.6 459.7 304.8 461.2 256.6 462.7 279.5 464.2 274.3 465.7 273.4 467.2 285.3 468.7 279.1 470.2 250.4 471.7 300.0 473.2 295.7 474.7 282.4 476.2 278.3 477.7 283.6 479.2 276.3 480.7 284.7 482.2 275.3 483.7 272.6 485.2 268.6 486.7 270.2 488.2 294.6 489.7 299.9 491.2 290.0 492.7 280.8 494.2 271.0 495.7 290.4 497.2 300.1 498.7 263.3 500.2 295.7 501.7 253.0 503.2 274.6 504.7 284.1 506.2 263.9 507.7 260.9 509.2 280.4 510.7 287.4 512.2 271.7 513.7 290.5 515.2 270.4 516.7 295.4 518.2 276.3 519.7 281.0 521.2 288.3 522.7 283.1 524.2 300.7 525.7 319.0 527.2 288.9 528.7 276.5 530.2 269.8 531.7 272.2 533.2 278.8 534.7 274.4 536.2 275.6 537.7 274.6 539.2 279.0 540.7 255.0 542.2 260.2 543.7 283.8 545.2 282.8 546.7 267.9 548.2 262.4 549.7 267.6 551.2 272.2 552.7 253.7 554.2 286.1 555.7 278.9 557.2 291.3 558.7 286.3 560.2 277.9 561.7 276.5 563.2 285.7 564.7 272.7 566.2 273.4 567.7 272.3 569.2 277.5 570.7 279.7 572.2 313.2 573.7 271.0 575.2 287.6 576.7 268.4 578.2 278.7 579.7 271.3 581.2 291.8 582.7 278.4 584.2 263.7 585.7 276.4 587.2 273.4 588.7 289.8 590.2 266.7 591.7 258.9 593.2 303.5 594.7 274.8 596.2 285.6 597.7 259.9 599.2 255.3 600.7 266.1 602.2 238.4 603.7 271.5 605.2 252.5 606.7 266.0 608.2 276.2 609.7 249.0 611.2 265.6 612.7 249.0 614.2 257.8 615.7 261.6 617.2 275.2 618.7 248.2 620.2 255.7 621.7 261.3 623.2 236.5 624.7 252.7 626.2 243.3 627.7 268.5 629.2 262.1 630.7 263.3 632.2 286.9 633.7 275.8 635.2 275.6 636.7 260.2 638.2 256.2 639.7 258.7 641.2 234.1 642.7 272.3 644.2 249.4 645.7 242.8 647.2 248.9 648.7 280.5 650.2 265.5 651.7 247.5 653.2 254.9 654.7 249.9 656.2 257.7 657.7 252.2 659.2 251.1 660.7 235.5 662.2 259.5 663.7 235.7 665.2 256.5 666.7 243.7 668.2 243.3 669.7 240.5 671.2 253.4 672.7 236.3 674.2 246.1 675.7 265.0 677.2 243.8 678.7 252.0 680.2 261.4 681.7 255.7 683.2 265.5 684.7 256.0 686.2 250.1 687.7 259.2 689.2 250.4 690.7 270.8 692.2 259.2 693.7 256.9 695.2 250.1 696.7 254.3 698.2 257.4 699.7 283.8 701.2 273.4 702.7 254.0 704.2 271.1 705.7 261.7 707.2 263.7 708.7 267.0 710.2 275.0 711.7 267.0 713.2 268.4 714.7 262.5 716.2 275.4 717.7 272.5 719.2 257.8 720.7 270.2 722.2 255.2 723.7 277.6 725.2 272.8 726.7 260.8 728.2 260.2 729.7 248.5 731.2 280.6 732.7 259.2 734.2 257.6 735.7 264.1 737.2 251.3 738.7 253.1 740.2 254.4 741.7 247.7 743.2 279.7 744.7 254.7 746.2 261.0 747.7 261.7 749.2 224.9 750.7 244.5 752.2 246.7 753.7 238.7 755.2 249.8 756.7 228.3 758.2 243.6 759.7 233.1 761.2 227.4 762.7 218.9 764.2 244.0 765.7 262.7 767.2 240.3 768.7 243.4 770.2 241.9 771.7 229.5 773.2 237.3 774.7 220.0 776.2 223.6 777.7 223.2 779.2 250.9 780.7 243.5 782.2 264.6 783.7 237.7 785.2 247.6 786.7 255.8 788.2 248.7 789.7 251.1 791.2 249.4 792.7 243.3 794.2 228.9 795.7 240.9 797.2 261.8 798.7 253.3 800.2 258.5 801.7 240.4 803.2 244.4 804.7 238.7 806.2 248.9 807.7 243.5 809.2 247.4 810.7 258.2 812.2 238.2 813.7 248.7 815.2 228.8 816.7 251.2 818.2 234.5 819.7 239.1 821.2 241.5 822.7 259.1 824.2 247.4 825.7 244.1 827.2 241.1 828.7 254.9 830.2 244.8 831.7 249.6 833.2 251.8 834.7 255.0 836.2 236.5 837.7 248.2 839.2 257.6 840.7 229.1 842.2 254.5 843.7 259.8 845.2 237.0 846.7 247.8 848.2 234.1 849.7 252.4 851.2 244.8 852.7 247.2 854.2 228.9 855.7 243.6 857.2 239.9 858.7 237.8 860.2 236.0 861.7 240.2 863.2 232.0 864.7 241.6 866.2 247.4 867.7 225.0 869.2 246.7 870.7 240.0 872.2 236.5 873.7 233.3 875.2 236.3 876.7 235.2 878.2 243.1 879.7 230.5 881.2 252.1 882.7 235.3 884.2 245.8 885.7 249.8 887.2 233.1 888.7 252.9 890.2 261.4 891.7 238.1 893.2 246.7 894.7 237.6 896.2 236.7 897.7 237.7 899.2 236.7 900.7 243.0 902.2 238.9 903.7 230.3 905.2 240.2 906.7 236.3 908.2 230.9 909.7 221.3 911.2 237.8 912.7 227.2 914.2 195.8 915.7 201.7 917.2 205.6 918.7 217.5 920.2 219.5 921.7 209.3 923.2 210.5 924.7 218.6 926.2 203.9 927.7 224.1 929.2 223.5 930.7 227.9 932.2 229.0 933.7 219.2 935.2 233.7 936.7 230.4 938.2 229.5 939.7 229.6 941.2 241.2 942.7 227.9 944.2 224.1 945.7 231.1 947.2 231.1 948.7 235.0 950.2 248.5 951.7 243.8 953.2 251.0 954.7 246.5 956.2 240.5 957.7 250.5 959.2 239.1 960.7 245.5 962.2 235.4 963.7 244.4 965.2 242.4 966.7 245.2 968.2 256.4 969.7 261.8 971.2 248.3 972.7 237.5 974.2 238.8 975.7 229.8 977.2 219.2 978.7 216.6 980.2 210.6 981.7 208.6 983.2 224.6 984.7 208.1 986.2 209.7 987.7 220.0 989.2 210.6 990.7 206.1 992.2 212.7 993.7 228.3 995.2 229.2 996.7 229.1 998.2 223.7 999.7 219.3 1001.2 232.2 1002.7 214.6 1004.2 227.5 1005.7 222.1 1007.2 229.8 1008.7 230.8 1010.2 245.1 1011.7 215.4 1013.2 250.9 1014.7 231.7 1016.2 248.2 1017.7 250.9 1019.2 237.5 1020.7 256.2 1022.2 251.2 1023.7 250.0 1025.2 244.6 1026.7 248.9 1028.2 245.5 1029.7 233.8 1031.2 259.4 1032.7 246.4 1034.2 222.0 1035.7 232.8 1037.2 251.3 1038.7 250.6 1040.2 241.5 1041.7 225.1 1043.2 232.8 1044.7 236.8 1046.2 234.0 1047.7 230.9 1049.2 227.5 1050.7 239.8 1052.2 228.0 1053.7 233.4 1055.2 234.4 1056.7 243.2 1058.2 234.1 1059.7 235.8 1061.2 221.2 1062.7 242.5 1064.2 239.2 1065.7 234.0 1067.2 199.3 1068.7 227.5 1070.2 231.8 1071.7 247.3 1073.2 233.5 1074.7 231.0 1076.2 232.5 1077.7 237.5 1079.2 219.7 1080.7 219.2 1082.2 217.9 1083.7 224.2 1085.2 206.3 1086.7 222.1 1088.2 216.9 1089.7 222.5 1091.2 213.8 1092.7 237.6 1094.2 217.9 1095.7 239.1 1097.2 232.1 1098.7 212.8 1100.2 229.4 1101.7 225.2 1103.2 210.6 1104.7 226.6 1106.2 220.8 1107.7 225.4 1109.2 216.7 1110.7 223.2 1112.2 226.9 1113.7 223.4 1115.2 219.9 1116.7 221.8 1118.2 216.8 1119.7 227.7 1121.2 205.1 1122.7 235.6 1124.2 225.1 1125.7 228.7 1127.2 230.2 1128.7 214.6 1130.2 242.7 1131.7 215.4 1133.2 226.6 1134.7 223.9 1136.2 229.2 1137.7 218.1 1139.2 204.5 1140.7 218.7 1142.2 197.7 1143.7 215.5 1145.2 213.9 1146.7 229.7 1148.2 217.0 1149.7 218.1 1151.2 215.0 1152.7 216.9 1154.2 222.1 1155.7 230.5 1157.2 217.7 1158.7 226.3 1160.2 216.9 1161.7 226.6 1163.2 228.9 1164.7 219.4 1166.2 223.8 1167.7 223.5 1169.2 228.8 1170.7 229.7 1172.2 223.2 1173.7 217.2 1175.2 211.0 1176.7 230.6 1178.2 235.4 1179.7 226.8 1181.2 239.3 1182.7 226.2 1184.2 225.7 1185.7 240.6 1187.2 223.7 1188.7 238.2 1190.2 236.9 1191.7 236.5 1193.2 250.8 1194.7 232.5 1196.2 232.6 1197.7 222.4 1199.2 229.5 1200.7 231.5 1202.2 231.1 1203.7 230.9 1205.2 232.4 1206.7 223.2 1208.2 210.4 1209.7 226.5 1211.2 227.7 1212.7 213.3 1214.2 227.6 1215.7 233.4 1217.2 230.6 1218.7 229.6 1220.2 228.7 1221.7 225.9 1223.2 223.4 1224.7 233.2 1226.2 226.7 1227.7 227.3 1229.2 233.8 1230.7 235.9 1232.2 246.9 1233.7 231.8 1235.2 262.0 1236.7 236.7 1238.2 240.7 1239.7 252.6 1241.2 241.6 1242.7 244.3 1244.2 247.7 1245.7 225.4 1247.2 246.0 1248.7 242.4 1250.2 248.1 1251.7 251.6 1253.2 257.2 1254.7 261.3 1256.2 256.8 1257.7 254.3 1259.2 231.7"/>
<path clip-path="url(#c2)" stroke="#000" d="M194.2 395.7L195.7 413.2 197.2 406.4 198.7 395.2 200.2 399.1 201.7 400.0 203.2 407.6 204.7 405.9 206.2 412.9 207.7 395.2 209.2 422.1 210.7 413.9 212.2 420.5 213.7 405.2 215.2 417.3 216.7 425.9 218.2 428.2 219.7 421.6 221.2 423.5 222.7 428.9 224.2 418.6 225.7 414.4 227.2 429.2 228.7 420.6 230.2 411.9 231.7 421.2 233.2 423.9 234.7 421.2 236.2 421.1 237.7 432.8 239.2 440.6 240.7 433.4 242.2 432.9 243.7 454.2 245.2 446.8 246.7 441.6 248.2 447.8 249.7 452.3 251.2 444.3 252.7 443.4 254.2 452.2 255.7 451.7 257.2 459.5 258.7 444.9 260.2 450.0 261.7 449.2 263.2 442.4 264.7 457.0 266.2 459.9 267.7 452.0 269.2 468.1 270.7 463.1 272.2 461.6 273.7 461.1 275.2 479.9 276.7 453.1 278.2 465.9 279.7 464.8 281.2 449.1 282.7 461.7 284.2 458.4 285.7 465.3 287.2 458.0 288.7 461.0 290.2 462.1 291.7 457.4 293.2 468.0 294.7 464.7 296.2 471.3 297.7 467.2 299.2 478.6 300.7 474.4 302.2 469.4 303.7 477.4 305.2 475.6 306.7 483.5 308.2 463.0 309.7 479.2 311.2 474.9 312.7 471.8 314.2 465.4 315.7 481.8 317.2 465.6 318.7 477.7 320.2 482.3 321.7 463.7 323.2 459.1 324.7 463.2 326.2 472.3 327.7 480.4 329.2 481.4 330.7 455.7 332.2 463.0 333.7 471.7 335.2 476.9 336.7 470.5 338.2 463.6 339.7 472.1 341.2 473.1 342.7 472.9 344.2 468.8 345.7 476.1 347.2 477.8 348.7 476.5 350.2 477.3 351.7 471.9 353.2 478.2 354.7 488.8 356.2 481.1 357.7 476.2 359.2 494.7 360.7 488.2 362.2 497.5 363.7 485.8 365.2 483.0 366.7 475.4 368.2 490.9 369.7 497.7 371.2 477.1 372.7 476.7 374.2 483.9 375.7 475.9 377.2 477.7 378.7 476.1 380.2 492.9 381.7 487.5 383.2 481.5 384.7 486.0 386.2 478.4 387.7 481.9 389.2 467.1 390.7 471.7 392.2 484.0 393.7 474.9 395.2 480.9 396.7 478.4 398.2 482.9 399.7 479.2 401.2 482.3 402.7 473.7 404.2 470.8 405.7 472.4 407.2 475.3 408.7 483.8 410.2 478.1 411.7 481.0 413.2 483.8 414.7 480.1 416.2 471.0 417.7 482.0 419.2 483.0 420.7 486.9 422.2 482.8 423.7 476.7 425.2 475.4 426.7 491.6 428.2 483.2 429.7 490.3 431.2 491.7 432.7 474.5 434.2 477.4 435.7 481.1 437.2 480.5 438.7 480.5 440.2 479.1 441.7 478.4 443.2 468.0 444.7 476.0 446.2 473.9 447.7 479.3 449.2 477.8 450.7 485.8 452.2 487.8 453.7 483.6 455.2 484.8 456.7 484.6 458.2 483.1 459.7 485.4 461.2 481.6 462.7 487.9 464.2 473.0 465.7 489.6 467.2 480.0 468.7 494.6 470.2 484.9 471.7 483.3 473.2 484.4 474.7 481.9 476.2 484.8 477.7 478.1 479.2 474.5 480.7 475.3 482.2 484.6 483.7 478.1 485.2 470.7 486.7 478.0 488.2 468.9 489.7 487.9 491.2 468.5 492.7 479.7 494.2 479.3 495.7 467.1 497.2 475.2 498.7 480.0 500.2 476.8 501.7 475.7 503.2 486.7 504.7 473.2 506.2 474.0 507.7 471.4 509.2 476.7 510.7 469.3 512.2 479.8 513.7 472.6 515.2 469.7 516.7 468.6 518.2 487.5 519.7 482.5 521.2 475.3 522.7 482.8 524.2 471.2 525.7 477.5 527.2 478.7 528.7 466.7 530.2 481.1 531.7 474.4 533.2 475.8 534.7 469.9 536.2 469.8 537.7 472.2 539.2 480.3 540.7 492.1 542.2 472.8 543.7 480.3 545.2 472.3 546.7 463.5 548.2 475.2 549.7 475.9 551.2 471.0 552.7 475.7 554.2 477.4 555.7 468.0 557.2 464.8 558.7 470.9 560.2 471.7 561.7 469.2 563.2 476.2 564.7 479.8 566.2 456.8 567.7 470.8 569.2 474.5 570.7 472.3 572.2 474.6 573.7 467.3 575.2 474.7 576.7 482.4 578.2 475.8 579.7 469.3 581.2 477.4 582.7 480.1 584.2 475.9 585.7 470.0 587.2 479.4 588.7 474.3 590.2 474.0 591.7 472.9 593.2 466.4 594.7 477.5 596.2 474.2 597.7 460.5 599.2 470.2 600.7 465.0 602.2 457.6 603.7 462.8 605.2 466.1 606.7 466.5 608.2 465.0 609.7 467.1 611.2 468.0 612.7 465.8 614.2 472.8 615.7 466.8 617.2 467.0 618.7 468.9 620.2 461.5 621.7 463.7 623.2 475.3 624.7 469.4 626.2 464.4 627.7 466.5 629.2 459.6 630.7 466.6 632.2 462.1 633.7 466.5 635.2 455.1 636.7 469.4 638.2 460.6 639.7 453.1 641.2 454.9 642.7 464.1 644.2 465.3 645.7 458.7 647.2 466.9 648.7 482.6 650.2 461.9 651.7 468.4 653.2 467.6 654.7 471.7 656.2 460.9 657.7 465.2 659.2 472.7 660.7 469.5 662.2 477.5 663.7 467.6 665.2 474.4 666.7 488.0 668.2 467.4 669.7 466.0 671.2 469.6 672.7 470.5 674.2 476.4 675.7 470.8 677.2 465.4 678.7 469.2 680.2 482.1 681.7 476.1 683.2 456.5 684.7 470.3 686.2 465.6 687.7 472.4 689.2 468.3 690.7 478.5 692.2 472.8 693.7 470.3 695.2 466.6 696.7 464.8 698.2 466.4 699.7 470.3 701.2 465.7 702.7 461.4 704.2 468.6 705.7 462.3 707.2 451.9 708.7 457.5 710.2 456.9 711.7 455.0 713.2 444.2 714.7 462.9 716.2 460.2 717.7 456.3 719.2 463.2 720.7 461.1 722.2 460.9 723.7 447.2 725.2 459.5 726.7 463.2 728.2 468.6 729.7 470.2 731.2 462.7 732.7 455.8 734.2 450.6 735.7 463.4 737.2 462.6 738.7 469.2 740.2 465.6 741.7 468.6 743.2 459.5 744.7 468.0 746.2 463.7 747.7 466.9 749.2 466.6 750.7 462.9 752.2 463.1 753.7 460.1 755.2 464.8 756.7 464.0 758.2 459.1 759.7 458.3 761.2 469.9 762.7 460.2 764.2 465.7 765.7 462.4 767.2 457.6 768.7 455.8 770.2 459.6 771.7 458.6 773.2 460.4 774.7 451.2 776.2 454.8 777.7 456.0 779.2 464.3 780.7 445.3 782.2 458.3 783.7 452.4 785.2 464.6 786.7 453.0 788.2 457.9 789.7 464.2 791.2 459.2 792.7 459.0 794.2 459.6 795.7 454.5 797.2 462.2 798.7 459.5 800.2 455.9 801.7 450.0 803.2 458.3 804.7 464.3 806.2 461.7 807.7 456.2 809.2 465.8 810.7 463.7 812.2 465.4 813.7 462.9 815.2 460.9 816.7 459.7 818.2 460.0 819.7 466.1 821.2 462.7 822.7 455.2 824.2 461.8 825.7 453.1 827.2 460.1 828.7 451.3 830.2 448.9 831.7 454.2 833.2 452.2 834.7 445.5 836.2 456.2 837.7 462.9 839.2 443.9 840.7 459.2 842.2 445.2 843.7 446.0 845.2 447.9 846.7 441.8 848.2 454.9 849.7 451.0 851.2 445.7 852.7 449.0 854.2 444.3 855.7 450.5 857.2 457.2 858.7 444.5 860.2 450.5 861.7 454.0 863.2 459.3 864.7 459.1 866.2 451.5 867.7 449.6 869.2 455.5 870.7 450.9 872.2 452.1 873.7 460.3 875.2 462.3 876.7 456.0 878.2 454.1 879.7 459.2 881.2 447.8 882.7 458.6 884.2 454.1 885.7 471.9 887.2 463.8 888.7 462.8 890.2 459.5 891.7 447.6 893.2 459.8 894.7 463.6 896.2 452.6 897.7 459.3 899.2 459.0 900.7 446.9 902.2 457.2 903.7 457.8 905.2 455.4 906.7 454.8 908.2 459.9 909.7 447.2 911.2 454.8 912.7 468.3 914.2 448.2 915.7 458.9 917.2 451.7 918.7 443.5 920.2 453.7 921.7 451.1 923.2 458.4 924.7 450.2 926.2 459.3 927.7 448.5 929.2 451.0 930.7 445.4 932.2 445.5 933.7 451.2 935.2 444.1 936.7 440.0 938.2 435.7 939.7 447.4 941.2 445.9 942.7 442.4 944.2 444.2 945.7 438.0 947.2 438.2 948.7 438.8 950.2 445.3 951.7 444.2 953.2 437.5 954.7 444.7 956.2 441.0 957.7 440.6 959.2 443.3 960.7 437.9 962.2 438.4 963.7 438.9 965.2 437.3 966.7 443.8 968.2 434.9 969.7 448.1 971.2 443.9 972.7 442.5 974.2 437.5 975.7 446.8 977.2 451.2 978.7 450.6 980.2 448.6 981.7 435.2 983.2 439.3 984.7 441.3 986.2 439.0 987.7 448.7 989.2 445.2 990.7 445.7 992.2 447.8 993.7 439.5 995.2 440.9 996.7 442.1 998.2 449.6 999.7 448.6 1001.2 449.0 1002.7 448.2 1004.2 440.4 1005.7 444.3 1007.2 448.9 1008.7 440.5 1010.2 443.4 1011.7 448.3 1013.2 448.4 1014.7 448.2 1016.2 442.2 1017.7 438.6 1019.2 444.2 1020.7 447.7 1022.2 441.6 1023.7 438.4 1025.2 439.2 1026.7 439.0 1028.2 443.0 1029.7 450.6 1031.2 454.0 1032.7 446.5 1034.2 447.8 1035.7 429.6 1037.2 432.9 1038.7 445.1 1040.2 441.4 1041.7 438.8 1043.2 439.8 1044.7 440.9 1046.2 446.0 1047.7 442.0 1049.2 448.9 1050.7 455.3 1052.2 447.2 1053.7 452.2 1055.2 448.5 1056.7 441.0 1058.2 445.3 1059.7 440.5 1061.2 450.2 1062.7 439.4 1064.2 452.7 1065.7 447.3 1067.2 435.1 1068.7 448.3 1070.2 452.6 1071.7 440.3 1073.2 447.6 1074.7 435.0 1076.2 445.5 1077.7 437.9 1079.2 449.7 1080.7 439.5 1082.2 432.8 1083.7 447.5 1085.2 457.3 1086.7 443.9 1088.2 450.7 1089.7 445.7 1091.2 442.3 1092.7 445.6 1094.2 447.9 1095.7 435.2 1097.2 442.2 1098.7 439.7 1100.2 430.6 1101.7 443.7 1103.2 445.9 1104.7 432.2 1106.2 444.1 1107.7 438.6 1109.2 438.3 1110.7 451.6 1112.2 440.7 1113.7 440.5 1115.2 446.0 1116.7 444.4 1118.2 441.7 1119.7 433.2 1121.2 430.8 1122.7 442.6 1124.2 432.8 1125.7 429.0 1127.2 431.3 1128.7 436.3 1130.2 432.0 1131.7 447.4 1133.2 435.4 1134.7 439.9 1136.2 437.3 1137.7 444.4 1139.2 432.6 1140.7 441.0 1142.2 438.6 1143.7 440.6 1145.2 439.0 1146.7 431.5 1148.2 433.9 1149.7 432.1 1151.2 436.0 1152.7 431.6 1154.2 429.7 1155.7 433.3 1157.2 434.2 1158.7 444.7 1160.2 432.9 1161.7 437.9 1163.2 445.3 1164.7 427.7 1166.2 429.1 1167.7 431.6 1169.2 436.8 1170.7 449.2 1172.2 440.8 1173.7 441.6 1175.2 435.2 1176.7 423.2 1178.2 424.7 1179.7 442.0 1181.2 438.2 1182.7 432.3 1184.2 445.1 1185.7 432.4 1187.2 445.7 1188.7 446.5 1190.2 436.4 1191.7 433.4 1193.2 439.7 1194.7 429.2 1196.2 437.2 1197.7 426.1 1199.2 436.0 1200.7 431.5 1202.2 429.5 1203.7 427.4 1205.2 433.4 1206.7 426.1 1208.2 434.2 1209.7 434.3 1211.2 439.4 1212.7 431.6 1214.2 446.1 1215.7 436.9 1217.2 433.5 1218.7 444.8 1220.2 445.2 1221.7 437.2 1223.2 434.8 1224.7 440.8 1226.2 436.9 1227.7 439.4 1229.2 447.9 1230.7 443.7 1232.2 443.5 1233.7 443.8 1235.2 443.2 1236.7 446.9 1238.2 437.3 1239.7 439.6 1241.2 440.9 1242.7 450.9 1244.2 441.4 1245.7 439.6 1247.2 452.1 1248.7 441.9 1250.2 434.1 1251.7 447.7 1253.2 441.8 1254.7 442.8 1256.2 448.2 1257.7 447.0 1259.2 445.6"/>
<path clip-path="url(#c2)" stroke="#f00" d="M194.2 445.5L195.7 428.9 197.2 426.9 198.7 426.8 200.2 435.6 201.7 416.3 203.2 424.5 204.7 423.3 206.2 436.2 207.7 458.6 209.2 443.3 210.7 448.5 212.2 433.1 213.7 447.2 215.2 440.1 216.7 460.6 218.2 458.9 219.7 460.1 221.2 471.9 222.7 458.5 224.2 459.8 225.7 455.7 227.2 455.9 228.7 460.7 230.2 457.0 231.7 454.1 233.2 457.4 234.7 459.4 236.2 471.3 237.7 456.8 239.2 474.3 240.7 466.7 242.2 469.3 243.7 467.5 245.2 482.3 246.7 483.6 248.2 486.2 249.7 481.6 251.2 488.5 252.7 500.0 254.2 492.5 255.7 486.6 257.2 496.4 258.7 487.7 260.2 493.8 261.7 496.9 263.2 491.1 264.7 481.6 266.2 495.3 267.7 511.9 269.2 496.6 270.7 504.3 272.2 510.8 273.7 501.4 275.2 511.4 276.7 516.0 278.2 511.7 279.7 512.1 281.2 510.1 282.7 520.1 284.2 506.5 285.7 504.1 287.2 507.5 288.7 496.9 290.2 491.3 291.7 496.8 293.2 516.8 294.7 505.8 296.2 490.9 297.7 489.3 299.2 500.0 300.7 501.9 302.2 504.5 303.7 510.6 305.2 513.4 306.7 507.9 308.2 511.4 309.7 499.9 311.2 500.0 312.7 510.2 314.2 512.3 315.7 513.7 317.2 512.5 318.7 515.2 320.2 515.8 321.7 498.7 323.2 506.8 324.7 513.5 326.2 515.5 327.7 503.0 329.2 519.0 330.7 509.4 332.2 510.0 333.7 515.8 335.2 518.7 336.7 504.3 338.2 521.2 339.7 514.3 341.2 507.7 342.7 511.9 344.2 498.9 345.7 509.4 347.2 514.0 348.7 508.6 350.2 510.7 351.7 512.0 353.2 511.6 354.7 518.0 356.2 509.6 357.7 507.7 359.2 513.8 360.7 522.5 362.2 505.3 363.7 510.8 365.2 496.0 366.7 514.8 368.2 510.2 369.7 515.3 371.2 507.4 372.7 524.2 374.2 512.1 375.7 510.7 377.2 499.2 378.7 494.1 380.2 508.1 381.7 504.8 383.2 524.6 384.7 502.1 386.2 503.3 387.7 507.2 389.2 498.1 390.7 504.2 392.2 523.8 393.7 512.6 395.2 508.5 396.7 503.9 398.2 516.5 399.7 515.3 401.2 512.4 402.7 508.3 404.2 510.8 405.7 509.1 407.2 503.5 408.7 512.5 410.2 496.1 411.7 501.1 413.2 510.3 414.7 518.5 416.2 505.0 417.7 517.0 419.2 524.7 420.7 538.0 422.2 537.6 423.7 523.1 425.2 520.2 426.7 509.7 428.2 516.4 429.7 526.9 431.2 511.2 432.7 518.5 434.2 514.2 435.7 511.0 437.2 509.2 438.7 516.4 440.2 518.5 441.7 517.2 443.2 507.7 444.7 515.1 446.2 517.9 447.7 521.2 449.2 519.3 450.7 520.7 452.2 522.6 453.7 518.5 455.2 509.1 456.7 511.8 458.2 506.4 459.7 494.7 461.2 512.4 462.7 521.1 464.2 500.9 465.7 503.9 467.2 506.6 468.7 517.2 470.2 506.7 471.7 515.3 473.2 507.1 474.7 509.0 476.2 516.5 477.7 513.9 479.2 510.1 480.7 516.2 482.2 518.3 483.7 511.2 485.2 515.3 486.7 513.2 488.2 507.7 489.7 520.1 491.2 513.9 492.7 510.0 494.2 504.3 495.7 505.0 497.2 522.0 498.7 505.5 500.2 517.5 501.7 513.7 503.2 520.0 504.7 518.4 506.2 511.3 507.7 513.5 509.2 517.3 510.7 518.4 512.2 515.0 513.7 510.3 515.2 513.7 516.7 516.8 518.2 513.5 519.7 503.6 521.2 511.1 522.7 506.9 524.2 508.1 525.7 526.5 527.2 506.5 528.7 508.1 530.2 502.6 531.7 505.5 533.2 503.5 534.7 514.9 536.2 524.5 537.7 501.5 539.2 516.3 540.7 497.1 542.2 511.4 543.7 511.0 545.2 507.4 546.7 502.9 548.2 516.5 549.7 504.5 551.2 512.9 552.7 495.1 554.2 505.5 555.7 509.2 557.2 507.2 558.7 501.0 560.2 511.7 561.7 509.1 563.2 517.3 564.7 519.0 566.2 510.1 567.7 497.6 569.2 508.9 570.7 525.1 572.2 509.9 573.7 514.3 575.2 506.2 576.7 518.1 578.2 518.2 579.7 514.9 581.2 506.5 582.7 512.4 584.2 503.8 585.7 520.0 587.2 516.3 588.7 525.3 590.2 519.8 591.7 506.0 593.2 519.8 594.7 520.5 596.2 521.8 597.7 506.4 599.2 506.3 600.7 509.2 602.2 499.2 603.7 494.0 605.2 496.4 606.7 519.0 608.2 498.0 609.7 497.2 611.2 500.5 612.7 504.2 614.2 511.3 615.7 509.6 617.2 511.7 618.7 507.5 620.2 507.6 621.7 505.3 623.2 501.2 624.7 520.9 626.2 506.3 627.7 514.6 629.2 507.3 630.7 508.0 632.2 527.1 633.7 523.3 635.2 509.1 636.7 531.8 638.2 515.2 639.7 513.3 641.2 516.9 642.7 513.9 644.2 513.7 645.7 500.9 647.2 509.2 648.7 519.9 650.2 511.2 651.7 514.2 653.2 506.3 654.7 501.7 656.2 531.2 657.7 503.0 659.2 510.2 660.7 503.6 662.2 499.4 663.7 488.0 665.2 500.3 666.7 490.3 668.2 487.0 669.7 507.1 671.2 503.0 672.7 521.6 674.2 497.2 675.7 496.3 677.2 500.0 678.7 499.1 680.2 501.0 681.7 524.8 683.2 488.0 684.7 511.1 686.2 497.8 687.7 506.8 689.2 511.6 690.7 500.4 692.2 509.7 693.7 508.8 695.2 500.0 696.7 501.7 698.2 506.3 699.7 493.5 701.2 504.2 702.7 503.8 704.2 500.4 705.7 494.8 707.2 501.6 708.7 513.4 710.2 510.4 711.7 499.7 713.2 494.9 714.7 497.9 716.2 500.5 717.7 495.2 719.2 495.3 720.7 499.9 722.2 499.1 723.7 481.4 725.2 500.5 726.7 494.9 728.2 501.6 729.7 493.0 731.2 495.6 732.7 504.2 734.2 477.1 735.7 504.1 737.2 494.3 738.7 483.5 740.2 480.9 741.7 495.7 743.2 485.9 744.7 495.8 746.2 488.0 747.7 485.2 749.2 501.5 750.7 486.1 752.2 487.6 753.7 487.0 755.2 488.8 756.7 498.8 758.2 493.7 759.7 483.6 761.2 492.0 762.7 492.9 764.2 491.4 765.7 485.8 767.2 492.1 768.7 494.3 770.2 493.6 771.7 500.9 773.2 488.8 774.7 489.8 776.2 489.5 777.7 491.2 779.2 489.9 780.7 481.3 782.2 493.0 783.7 494.8 785.2 495.2 786.7 481.5 788.2 485.3 789.7 495.7 791.2 484.7 792.7 486.3 794.2 484.9 795.7 488.4 797.2 486.4 798.7 491.2 800.2 482.1 801.7 480.4 803.2 470.9 804.7 475.3 806.2 475.6 807.7 476.6 809.2 471.9 810.7 486.8 812.2 474.8 813.7 480.8 815.2 471.8 816.7 479.6 818.2 484.9 819.7 469.8 821.2 476.4 822.7 471.4 824.2 472.1 825.7 472.2 827.2 481.0 828.7 468.1 830.2 464.6 831.7 465.9 833.2 462.7 834.7 473.7 836.2 466.9 837.7 485.4 839.2 474.4 840.7 467.1 842.2 477.8 843.7 467.4 845.2 473.4 846.7 478.6 848.2 468.2 849.7 466.7 851.2 468.6 852.7 487.0 854.2 473.1 855.7 470.3 857.2 482.0 858.7 476.6 860.2 478.8 861.7 472.1 863.2 465.7 864.7 471.4 866.2 467.9 867.7 463.9 869.2 468.9 870.7 466.8 872.2 489.0 873.7 475.8 875.2 474.1 876.7 468.2 878.2 466.1 879.7 477.5 881.2 478.8 882.7 484.1 884.2 480.2 885.7 477.6 887.2 477.9 888.7 473.3 890.2 473.4 891.7 479.2 893.2 466.5 894.7 470.7 896.2 471.6 897.7 467.8 899.2 469.0 900.7 461.4 902.2 465.4 903.7 464.5 905.2 468.5 906.7 468.2 908.2 465.0 909.7 475.9 911.2 468.7 912.7 464.2 914.2 461.2 915.7 462.9 917.2 460.5 918.7 472.1 920.2 465.5 921.7 462.3 923.2 459.8 924.7 459.0 926.2 461.1 927.7 472.2 929.2 490.2 930.7 465.6 932.2 467.1 933.7 458.9 935.2 473.6 936.7 481.9 938.2 478.6 939.7 469.3 941.2 467.4 942.7 470.7 944.2 466.8 945.7 476.0 947.2 471.2 948.7 472.3 950.2 471.9 951.7 467.7 953.2 472.3 954.7 467.6 956.2 476.2 957.7 466.1 959.2 469.7 960.7 463.5 962.2 464.7 963.7 465.0 965.2 474.1 966.7 486.5 968.2 480.9 969.7 466.4 971.2 466.7 972.7 458.8 974.2 473.6 975.7 478.4 977.2 467.4 978.7 475.7 980.2 471.1 981.7 465.1 983.2 473.1 984.7 482.4 986.2 465.2 987.7 472.3 989.2 468.7 990.7 460.8 992.2 476.7 993.7 465.0 995.2 469.6 996.7 468.7 998.2 469.7 999.7 466.8 1001.2 462.8 1002.7 478.6 1004.2 463.0 1005.7 461.7 1007.2 454.6 1008.7 467.0 1010.2 473.3 1011.7 473.5 1013.2 482.0 1014.7 476.7 1016.2 471.4 1017.7 470.9 1019.2 494.6 1020.7 468.3 1022.2 471.2 1023.7 466.5 1025.2 473.4 1026.7 483.8 1028.2 472.1 1029.7 476.1 1031.2 463.0 1032.7 482.9 1034.2 479.7 1035.7 483.2 1037.2 477.0 1038.7 472.4 1040.2 467.9 1041.7 477.1 1043.2 473.7 1044.7 468.5 1046.2 472.7 1047.7 473.8 1049.2 475.8 1050.7 488.8 1052.2 463.2 1053.7 469.4 1055.2 468.5 1056.7 478.7 1058.2 466.8 1059.7 466.2 1061.2 469.2 1062.7 470.1 1064.2 472.4 1065.7 473.2 1067.2 467.1 1068.7 471.0 1070.2 470.6 1071.7 464.3 1073.2 466.7 1074.7 470.3 1076.2 460.7 1077.7 461.9 1079.2 464.9 1080.7 466.2 1082.2 470.0 1083.7 460.4 1085.2 471.1 1086.7 472.6 1088.2 498.0 1089.7 479.9 1091.2 465.6 1092.7 464.0 1094.2 476.5 1095.7 480.8 1097.2 469.6 1098.7 474.5 1100.2 487.6 1101.7 493.3 1103.2 467.1 1104.7 472.0 1106.2 468.0 1107.7 463.6 1109.2 470.2 1110.7 471.2 1112.2 463.6 1113.7 472.0 1115.2 481.1 1116.7 465.0 1118.2 475.6 1119.7 476.0 1121.2 474.1 1122.7 471.0 1124.2 468.7 1125.7 476.8 1127.2 464.8 1128.7 470.1 1130.2 461.1 1131.7 475.1 1133.2 476.9 1134.7 465.0 1136.2 469.4 1137.7 476.8 1139.2 473.6 1140.7 469.7 1142.2 461.6 1143.7 475.1 1145.2 482.4 1146.7 468.5 1148.2 473.8 1149.7 473.4 1151.2 470.1 1152.7 476.1 1154.2 469.0 1155.7 463.7 1157.2 488.7 1158.7 483.8 1160.2 490.4 1161.7 477.0 1163.2 463.1 1164.7 471.6 1166.2 471.2 1167.7 458.6 1169.2 458.9 1170.7 464.5 1172.2 449.6 1173.7 476.6 1175.2 461.1 1176.7 456.6 1178.2 458.6 1179.7 450.8 1181.2 450.2 1182.7 456.7 1184.2 477.4 1185.7 457.8 1187.2 457.1 1188.7 458.4 1190.2 467.5 1191.7 457.7 1193.2 455.4 1194.7 456.8 1196.2 450.2 1197.7 451.0 1199.2 451.4 1200.7 462.0 1202.2 464.2 1203.7 458.8 1205.2 461.2 1206.7 452.6 1208.2 455.3 1209.7 456.1 1211.2 455.2 1212.7 458.1 1214.2 444.2 1215.7 453.5 1217.2 457.6 1218.7 462.2 1220.2 460.5 1221.7 458.5 1223.2 458.9 1224.7 454.7 1226.2 459.7 1227.7 458.2 1229.2 454.3 1230.7 463.1 1232.2 463.4 1233.7 454.3 1235.2 460.8 1236.7 463.2 1238.2 461.9 1239.7 477.2 1241.2 465.0 1242.7 454.8 1244.2 455.6 1245.7 465.0 1247.2 463.2 1248.7 467.9 1250.2 459.1 1251.7 466.1 1253.2 465.7 1254.7 470.3 1256.2 457.1 1257.7 461.1 1259.2 477.2"/>
<path clip-path="url(#c2)" stroke="#00f" d="M194.2 481.8L195.7 468.0 197.2 484.9 198.7 483.3 200.2 490.8 201.7 489.1 203.2 495.7 204.7 491.3 206.2 491.3 207.7 498.3 209.2 499.4 210.7 504.9 212.2 501.9 213.7 506.9 215.2 509.8 216.7 507.9 218.2 510.1 219.7 508.0 221.2 523.2 222.7 520.8 224.2 528.6 225.7 531.5 227.2 538.2 228.7 537.0 230.2 534.9 231.7 541.3 233.2 533.4 234.7 542.1 236.2 532.6 237.7 540.1 239.2 544.0 240.7 543.4 242.2 542.8 243.7 542.0 245.2 543.6 246.7 550.8 248.2 552.5 249.7 551.1 251.2 550.3 252.7 558.4 254.2 553.0 255.7 558.4 257.2 559.7 258.7 568.3 260.2 565.9 261.7 565.7 263.2 565.6 264.7 563.2 266.2 568.4 267.7 571.9 269.2 565.7 270.7 569.2 272.2 568.0 273.7 572.9 275.2 574.2 276.7 576.7 278.2 574.7 279.7 578.5 281.2 573.1 282.7 574.3 284.2 574.1 285.7 579.2 287.2 575.7 288.7 575.9 290.2 580.8 291.7 583.5 293.2 582.5 294.7 571.0 296.2 578.5 297.7 577.5 299.2 576.3 300.7 579.6 302.2 586.4 303.7 579.4 305.2 579.4 306.7 593.2 308.2 583.9 309.7 586.0 311.2 581.7 312.7 585.1 314.2 586.8 315.7 580.4 317.2 582.3 318.7 590.7 320.2 589.1 321.7 586.1 323.2 585.5 324.7 589.8 326.2 586.7 327.7 590.2 329.2 597.5 330.7 592.8 332.2 595.6 333.7 591.3 335.2 591.2 336.7 594.4 338.2 586.0 339.7 592.4 341.2 595.1 342.7 598.5 344.2 603.6 345.7 599.9 347.2 591.6 348.7 594.9 350.2 590.2 351.7 588.6 353.2 595.6 354.7 585.1 356.2 587.9 357.7 590.9 359.2 589.0 360.7 587.3 362.2 586.2 363.7 585.3 365.2 587.6 366.7 579.7 368.2 578.7 369.7 576.9 371.2 589.1 372.7 576.9 374.2 573.2 375.7 573.2 377.2 582.2 378.7 573.4 380.2 577.7 381.7 577.2 383.2 575.0 384.7 573.1 386.2 574.9 387.7 574.1 389.2 569.1 390.7 585.3 392.2 580.7 393.7 577.9 395.2 577.2 396.7 575.9 398.2 581.8 399.7 580.0 401.2 581.1 402.7 575.0 404.2 580.7 405.7 585.8 407.2 579.9 408.7 582.0 410.2 580.3 411.7 583.8 413.2 584.9 414.7 580.7 416.2 578.4 417.7 580.7 419.2 579.2 420.7 576.2 422.2 579.2 423.7 577.2 425.2 571.8 426.7 572.8 428.2 582.7 429.7 578.1 431.2 572.6 432.7 580.1 434.2 570.4 435.7 565.8 437.2 569.1 438.7 570.8 440.2 575.5 441.7 577.0 443.2 566.5 444.7 577.4 446.2 570.7 447.7 574.9 449.2 572.5 450.7 571.2 452.2 568.3 453.7 569.7 455.2 565.8 456.7 570.2 458.2 570.8 459.7 568.7 461.2 573.9 462.7 568.7 464.2 566.4 465.7 569.6 467.2 564.0 468.7 557.8 470.2 553.9 471.7 565.9 473.2 564.3 474.7 565.5 476.2 563.2 477.7 565.9 479.2 571.6 480.7 567.4 482.2 563.9 483.7 566.4 485.2 571.1 486.7 562.6 488.2 557.8 489.7 558.1 491.2 561.5 492.7 567.4 494.2 564.1 495.7 564.9 497.2 558.8 498.7 563.0 500.2 563.9 501.7 562.8 503.2 564.1 504.7 565.1 506.2 568.4 507.7 556.3 509.2 563.7 510.7 559.9 512.2 565.7 513.7 561.8 515.2 564.0 516.7 565.0 518.2 566.5 519.7 571.1 521.2 565.7 522.7 573.7 524.2 570.9 525.7 573.4 527.2 584.9 528.7 576.9 530.2 578.7 531.7 562.8 533.2 566.9 534.7 570.8 536.2 565.8 537.7 568.1 539.2 572.6 540.7 570.6 542.2 564.1 543.7 567.5 545.2 568.9 546.7 566.0 548.2 566.1 549.7 564.3 551.2 559.5 552.7 565.0 554.2 562.6 555.7 567.4 557.2 568.8 558.7 565.0 560.2 570.9 561.7 570.0 563.2 570.5 564.7 572.5 566.2 570.9 567.7 571.4 569.2 572.0 570.7 572.7 572.2 578.0 573.7 567.6 575.2 574.9 576.7 570.7 578.2 576.6 579.7 578.4 581.2 577.8 582.7 582.3 584.2 580.1 585.7 571.4 587.2 576.4 588.7 584.5 590.2 584.5 591.7 581.3 593.2 576.0 594.7 587.2 596.2 573.4 597.7 579.9 599.2 577.6 600.7 578.5 602.2 573.5 603.7 574.2 605.2 577.3 606.7 571.8 608.2 567.1 609.7 570.7 611.2 570.2 612.7 568.9 614.2 564.8 615.7 568.4 617.2 567.3 618.7 564.9 620.2 569.6 621.7 569.1 623.2 569.5 624.7 564.8 626.2 567.9 627.7 571.7 629.2 572.9 630.7 571.4 632.2 570.4 633.7 572.3 635.2 573.4 636.7 575.9 638.2 571.1 639.7 565.5 641.2 567.9 642.7 559.4 644.2 562.5 645.7 559.8 647.2 558.2 648.7 557.8 650.2 555.8 651.7 552.7 653.2 555.6 654.7 553.7 656.2 561.3 657.7 558.4 659.2 553.1 660.7 558.8 662.2 560.1 663.7 556.4 665.2 558.9 666.7 553.1 668.2 556.0 669.7 560.1 671.2 552.7 672.7 558.0 674.2 557.3 675.7 564.1 677.2 563.6 678.7 559.3 680.2 562.8 681.7 555.7 683.2 566.1 684.7 564.1 686.2 566.8 687.7 554.8 689.2 562.8 690.7 561.0 692.2 553.6 693.7 557.9 695.2 558.6 696.7 560.3 698.2 559.0 699.7 557.7 701.2 560.9 702.7 559.5 704.2 557.3 705.7 556.7 707.2 560.3 708.7 562.1 710.2 566.9 711.7 560.8 713.2 565.6 714.7 570.8 716.2 567.9 717.7 559.8 719.2 559.6 720.7 560.1 722.2 562.3 723.7 561.6 725.2 562.9 726.7 561.8 728.2 562.9 729.7 561.3 731.2 557.7 732.7 559.5 734.2 557.7 735.7 561.9 737.2 555.8 738.7 556.3 740.2 555.0 741.7 559.0 743.2 557.0 744.7 556.8 746.2 553.0 747.7 552.1 749.2 557.0 750.7 558.2 752.2 559.6 753.7 549.9 755.2 554.0 756.7 550.5 758.2 553.1 759.7 554.6 761.2 558.5 762.7 555.0 764.2 554.2 765.7 556.3 767.2 560.0 768.7 563.0 770.2 551.8 771.7 555.1 773.2 554.7 774.7 559.4 776.2 556.3 777.7 558.9 779.2 551.9 780.7 555.0 782.2 556.6 783.7 551.4 785.2 554.4 786.7 551.1 788.2 559.5 789.7 554.5 791.2 549.7 792.7 550.3 794.2 555.6 795.7 555.3 797.2 551.0 798.7 549.9 800.2 551.0 801.7 548.6 803.2 545.9 804.7 544.6 806.2 541.1 807.7 544.7 809.2 545.2 810.7 543.8 812.2 544.0 813.7 546.1 815.2 550.8 816.7 543.2 818.2 540.7 819.7 540.7 821.2 541.8 822.7 543.5 824.2 534.3 825.7 541.3 827.2 537.1 828.7 538.5 830.2 541.9 831.7 541.0 833.2 536.5 834.7 537.2 836.2 543.2 837.7 541.9 839.2 539.5 840.7 537.3 842.2 538.7 843.7 536.6 845.2 533.5 846.7 531.9 848.2 535.3 849.7 533.1 851.2 535.1 852.7 530.8 854.2 535.4 855.7 530.1 857.2 534.3 858.7 533.8 860.2 532.0 861.7 532.4 863.2 535.1 864.7 535.3 866.2 540.2 867.7 536.3 869.2 534.7 870.7 538.7 872.2 544.2 873.7 543.1 875.2 536.3 876.7 544.2 878.2 539.5 879.7 534.3 881.2 536.1 882.7 536.9 884.2 535.7 885.7 537.3 887.2 539.6 888.7 541.7 890.2 536.6 891.7 539.5 893.2 539.1 894.7 538.9 896.2 536.5 897.7 547.1 899.2 539.2 900.7 537.3 902.2 536.3 903.7 533.6 905.2 534.6 906.7 534.3 908.2 534.7 909.7 539.4 911.2 539.4 912.7 527.8 914.2 534.1 915.7 536.7 917.2 540.1 918.7 535.5 920.2 538.9 921.7 535.6 923.2 539.2 924.7 534.9 926.2 535.8 927.7 532.3 929.2 530.4 930.7 533.8 932.2 534.8 933.7 533.0 935.2 528.4 936.7 532.4 938.2 528.3 939.7 526.7 941.2 524.2 942.7 529.2 944.2 528.2 945.7 525.7 947.2 525.4 948.7 527.0 950.2 530.4 951.7 534.0 953.2 527.2 954.7 525.2 956.2 520.3 957.7 532.5 959.2 523.4 960.7 527.8 962.2 526.6 963.7 531.2 965.2 523.6 966.7 521.4 968.2 525.6 969.7 528.1 971.2 528.8 972.7 520.6 974.2 523.0 975.7 523.4 977.2 520.5 978.7 521.9 980.2 524.3 981.7 521.7 983.2 517.2 984.7 521.9 986.2 522.8 987.7 522.8 989.2 523.0 990.7 516.9 992.2 521.7 993.7 522.5 995.2 519.9 996.7 520.8 998.2 518.6 999.7 523.7 1001.2 518.9 1002.7 517.3 1004.2 519.5 1005.7 520.2 1007.2 526.7 1008.7 518.8 1010.2 519.2 1011.7 522.3 1013.2 527.4 1014.7 527.9 1016.2 520.7 1017.7 524.6 1019.2 522.6 1020.7 521.0 1022.2 523.4 1023.7 523.4 1025.2 525.5 1026.7 527.0 1028.2 525.4 1029.7 524.4 1031.2 522.5 1032.7 524.5 1034.2 523.0 1035.7 526.7 1037.2 522.6 1038.7 523.5 1040.2 529.0 1041.7 527.6 1043.2 525.7 1044.7 527.3 1046.2 528.4 1047.7 528.4 1049.2 530.0 1050.7 528.1 1052.2 526.5 1053.7 525.7 1055.2 522.7 1056.7 525.7 1058.2 528.1 1059.7 524.4 1061.2 522.0 1062.7 523.0 1064.2 521.9 1065.7 524.8 1067.2 528.8 1068.7 526.9 1070.2 526.3 1071.7 525.4 1073.2 523.1 1074.7 521.3 1076.2 523.7 1077.7 522.0 1079.2 525.4 1080.7 523.3 1082.2 522.5 1083.7 524.2 1085.2 529.9 1086.7 519.4 1088.2 523.3 1089.7 522.3 1091.2 520.6 1092.7 519.0 1094.2 520.1 1095.7 519.8 1097.2 519.6 1098.7 521.2 1100.2 519.4 1101.7 517.6 1103.2 519.4 1104.7 517.7 1106.2 516.5 1107.7 521.8 1109.2 518.1 1110.7 518.7 1112.2 521.4 1113.7 516.0 1115.2 520.3 1116.7 522.2 1118.2 521.6 1119.7 522.9 1121.2 527.1 1122.7 526.5 1124.2 524.5 1125.7 523.6 1127.2 520.2 1128.7 520.1 1130.2 517.8 1131.7 517.5 1133.2 517.4 1134.7 515.8 1136.2 520.1 1137.7 513.6 1139.2 518.1 1140.7 520.2 1142.2 518.0 1143.7 517.5 1145.2 519.0 1146.7 523.9 1148.2 520.8 1149.7 520.5 1151.2 524.1 1152.7 522.2 1154.2 517.3 1155.7 522.3 1157.2 525.4 1158.7 525.5 1160.2 521.8 1161.7 518.8 1163.2 524.9 1164.7 520.1 1166.2 520.5 1167.7 522.3 1169.2 520.7 1170.7 519.3 1172.2 518.2 1173.7 519.1 1175.2 519.7 1176.7 517.5 1178.2 519.5 1179.7 515.4 1181.2 516.8 1182.7 519.5 1184.2 517.7 1185.7 517.8 1187.2 516.3 1188.7 520.0 1190.2 521.3 1191.7 515.8 1193.2 520.8 1194.7 515.7 1196.2 519.0 1197.7 513.8 1199.2 519.7 1200.7 519.7 1202.2 520.5 1203.7 522.6 1205.2 521.0 1206.7 519.3 1208.2 517.3 1209.7 519.2 1211.2 517.4 1212.7 518.4 1214.2 521.8 1215.7 521.2 1217.2 520.6 1218.7 521.1 1220.2 516.7 1221.7 521.5 1223.2 516.6 1224.7 519.8 1226.2 521.5 1227.7 521.9 1229.2 521.8 1230.7 520.9 1232.2 521.1 1233.7 522.1 1235.2 523.9 1236.7 524.5 1238.2 517.0 1239.7 520.4 1241.2 521.8 1242.7 518.0 1244.2 518.9 1245.7 517.0 1247.2 513.8 1248.7 516.1 1250.2 515.3 1251.7 515.7 1253.2 512.7 1254.7 513.4 1256.2 514.6 1257.7 513.5 1259.2 515.1"/>
<path clip-path="url(#c2)" stroke="#f0f" d="M194.2 589.0L195.7 586.5 197.2 587.7 198.7 585.1 200.2 596.3 201.7 606.8 203.2 603.7 204.7 609.2 206.2 613.8 207.7 608.6 209.2 621.9 210.7 611.6 212.2 618.1 213.7 629.0 215.2 620.8 216.7 622.9 218.2 621.9 219.7 627.0 221.2 620.0 222.7 626.4 224.2 636.2 225.7 632.8 227.2 632.5 228.7 635.3 230.2 636.3 231.7 636.0 233.2 637.7 234.7 632.6 236.2 649.4 237.7 641.4 239.2 649.3 240.7 647.4 242.2 647.3 243.7 652.5 245.2 652.5 246.7 661.6 248.2 656.9 249.7 658.5 251.2 650.3 252.7 658.3 254.2 651.4 255.7 656.1 257.2 653.9 258.7 645.0 260.2 649.5 261.7 647.0 263.2 651.2 264.7 654.3 266.2 652.3 267.7 654.9 269.2 648.8 270.7 654.8 272.2 657.0 273.7 661.5 275.2 656.9 276.7 661.1 278.2 662.8 279.7 657.0 281.2 660.0 282.7 664.3 284.2 658.5 285.7 659.9 287.2 667.5 288.7 666.8 290.2 666.0 291.7 668.5 293.2 667.8 294.7 667.2 296.2 669.0 297.7 673.6 299.2 677.1 300.7 670.3 302.2 671.8 303.7 671.4 305.2 667.1 306.7 671.4 308.2 673.5 309.7 666.9 311.2 671.7 312.7 666.3 314.2 671.8 315.7 671.3 317.2 664.0 318.7 659.5 320.2 665.9 321.7 662.2 323.2 671.5 324.7 667.2 326.2 673.1 327.7 669.6 329.2 669.0 330.7 664.7 332.2 672.5 333.7 664.4 335.2 671.5 336.7 667.7 338.2 669.7 339.7 670.8 341.2 669.7 342.7 674.8 344.2 673.4 345.7 675.5 347.2 673.1 348.7 676.9 350.2 678.7 351.7 674.5 353.2 677.5 354.7 670.8 356.2 670.9 357.7 667.7 359.2 676.2 360.7 674.2 362.2 668.8 363.7 674.8 365.2 670.3 366.7 669.1 368.2 672.9 369.7 673.0 371.2 671.1 372.7 665.7 374.2 669.6 375.7 677.7 377.2 665.7 378.7 669.8 380.2 662.8 381.7 662.3 383.2 661.8 384.7 664.0 386.2 658.1 387.7 655.7 389.2 656.8 390.7 658.7 392.2 653.1 393.7 650.8 395.2 655.7 396.7 658.7 398.2 656.1 399.7 658.7 401.2 652.8 402.7 658.5 404.2 660.0 405.7 662.3 407.2 662.1 408.7 664.2 410.2 659.1 411.7 664.5 413.2 658.1 414.7 661.5 416.2 667.3 417.7 665.9 419.2 657.2 420.7 664.1 422.2 660.4 423.7 659.1 425.2 661.9 426.7 662.7 428.2 668.5 429.7 660.9 431.2 664.2 432.7 667.3 434.2 660.7 435.7 671.6 437.2 673.7 438.7 665.3 440.2 667.4 441.7 667.1 443.2 664.3 444.7 661.3 446.2 666.1 447.7 658.4 449.2 666.1 450.7 662.0 452.2 668.7 453.7 655.3 455.2 660.3 456.7 656.0 458.2 658.4 459.7 658.7 461.2 652.9 462.7 646.7 464.2 643.7 465.7 647.2 467.2 648.7 468.7 646.1 470.2 639.8 471.7 635.3 473.2 637.6 474.7 633.7 476.2 635.5 477.7 644.2 479.2 640.1 480.7 642.1 482.2 640.0 483.7 645.4 485.2 646.4 486.7 640.0 488.2 641.4 489.7 641.0 491.2 646.9 492.7 646.4 494.2 641.5 495.7 649.1 497.2 641.8 498.7 637.9 500.2 634.6 501.7 649.3 503.2 641.2 504.7 639.1 506.2 642.2 507.7 642.8 509.2 638.7 510.7 641.0 512.2 643.2 513.7 639.2 515.2 635.0 516.7 636.8 518.2 637.9 519.7 643.5 521.2 636.8 522.7 633.2 524.2 640.3 525.7 640.8 527.2 638.0 528.7 642.4 530.2 642.6 531.7 643.6 533.2 638.0 534.7 639.0 536.2 642.7 537.7 640.9 539.2 646.2 540.7 646.1 542.2 643.8 543.7 647.9 545.2 646.2 546.7 646.9 548.2 646.1 549.7 643.3 551.2 642.1 552.7 642.0 554.2 637.6 555.7 639.7 557.2 643.2 558.7 641.3 560.2 637.0 561.7 647.5 563.2 636.0 564.7 641.6 566.2 641.8 567.7 643.5 569.2 636.8 570.7 639.4 572.2 638.1 573.7 642.6 575.2 640.1 576.7 640.2 578.2 640.2 579.7 644.7 581.2 639.9 582.7 640.0 584.2 633.9 585.7 638.6 587.2 632.6 588.7 638.7 590.2 635.5 591.7 631.7 593.2 631.6 594.7 635.4 596.2 636.0 597.7 641.8 599.2 634.6 600.7 634.9 602.2 634.6 603.7 636.4 605.2 638.0 606.7 640.2 608.2 637.7 609.7 635.0 611.2 641.0 612.7 639.9 614.2 637.2 615.7 636.7 617.2 631.0 618.7 629.8 620.2 630.6 621.7 638.0 623.2 633.0 624.7 633.7 626.2 633.1 627.7 631.9 629.2 634.5 630.7 635.6 632.2 639.7 633.7 629.9 635.2 635.8 636.7 633.8 638.2 626.8 639.7 634.1 641.2 636.3 642.7 636.0 644.2 634.4 645.7 634.5 647.2 629.2 648.7 635.3 650.2 632.8 651.7 628.7 653.2 637.0 654.7 628.2 656.2 635.3 657.7 632.9 659.2 625.8 660.7 621.0 662.2 626.8 663.7 632.9 665.2 627.7 666.7 625.3 668.2 629.3 669.7 627.9 671.2 628.8 672.7 623.7 674.2 619.1 675.7 622.3 677.2 619.5 678.7 624.1 680.2 620.1 681.7 620.9 683.2 621.4 684.7 617.0 686.2 620.0 687.7 623.9 689.2 621.5 690.7 622.5 692.2 623.9 693.7 621.5 695.2 622.5 696.7 622.9 698.2 619.3 699.7 619.4 701.2 617.3 702.7 613.0 704.2 610.8 705.7 618.5 707.2 615.6 708.7 611.1 710.2 614.4 711.7 614.6 713.2 615.5 714.7 611.9 716.2 608.6 717.7 609.1 719.2 612.6 720.7 617.5 722.2 620.4 723.7 613.0 725.2 613.3 726.7 617.7 728.2 620.5 729.7 612.1 731.2 616.5 732.7 615.9 734.2 614.2 735.7 614.4 737.2 614.5 738.7 615.4 740.2 610.4 741.7 615.1 743.2 617.8 744.7 617.5 746.2 616.7 747.7 615.3 749.2 614.5 750.7 618.8 752.2 613.4 753.7 614.2 755.2 617.0 756.7 613.8 758.2 610.3 759.7 613.3 761.2 613.9 762.7 615.8 764.2 615.0 765.7 618.5 767.2 617.7 768.7 617.5 770.2 615.1 771.7 617.8 773.2 616.0 774.7 618.6 776.2 608.9 777.7 609.6 779.2 613.0 780.7 605.4 782.2 607.6 783.7 606.9 785.2 606.5 786.7 602.8 788.2 605.1 789.7 601.6 791.2 608.4 792.7 603.7 794.2 604.7 795.7 604.7 797.2 604.4 798.7 604.2 800.2 605.7 801.7 603.5 803.2 603.9 804.7 601.0 806.2 601.5 807.7 603.0 809.2 601.5 810.7 600.6 812.2 601.6 813.7 605.3 815.2 603.8 816.7 602.1 818.2 604.6 819.7 604.8 821.2 610.9 822.7 599.6 824.2 604.6 825.7 600.9 827.2 606.9 828.7 603.0 830.2 605.4 831.7 604.4 833.2 605.7 834.7 595.4 836.2 601.1 837.7 604.0 839.2 600.5 840.7 611.5 842.2 606.4 843.7 597.6 845.2 599.7 846.7 601.2 848.2 604.4 849.7 602.3 851.2 601.3 852.7 598.3 854.2 600.9 855.7 601.4 857.2 600.8 858.7 603.9 860.2 602.9 861.7 602.4 863.2 607.4 864.7 602.1 866.2 607.2 867.7 602.2 869.2 603.3 870.7 604.8 872.2 601.2 873.7 606.7 875.2 603.2 876.7 598.7 878.2 606.7 879.7 598.5 881.2 598.1 882.7 599.1 884.2 593.7 885.7 603.1 887.2 601.3 888.7 597.2 890.2 599.1 891.7 597.9 893.2 597.8 894.7 599.3 896.2 596.9 897.7 600.3 899.2 599.4 900.7 604.7 902.2 596.2 903.7 602.5 905.2 600.5 906.7 598.8 908.2 596.7 909.7 601.7 911.2 600.6 912.7 597.3 914.2 597.5 915.7 598.9 917.2 602.8 918.7 597.0 920.2 599.9 921.7 603.2 923.2 598.0 924.7 601.9 926.2 609.4 927.7 601.5 929.2 601.9 930.7 598.4 932.2 602.2 933.7 599.0 935.2 600.5 936.7 601.5 938.2 598.4 939.7 602.0 941.2 601.7 942.7 600.7 944.2 602.8 945.7 599.9 947.2 594.5 948.7 601.4 950.2 600.3 951.7 596.7 953.2 594.9 954.7 599.2 956.2 595.0 957.7 595.2 959.2 595.3 960.7 602.2 962.2 594.7 963.7 591.0 965.2 601.9 966.7 596.3 968.2 595.1 969.7 600.8 971.2 598.0 972.7 601.8 974.2 599.0 975.7 603.0 977.2 601.8 978.7 599.7 980.2 601.5 981.7 603.6 983.2 599.6 984.7 595.2 986.2 597.8 987.7 597.2 989.2 599.8 990.7 596.6 992.2 598.4 993.7 594.7 995.2 595.0 996.7 595.4 998.2 599.5 999.7 595.5 1001.2 597.0 1002.7 593.5 1004.2 592.9 1005.7 595.8 1007.2 597.1 1008.7 595.6 1010.2 597.7 1011.7 597.7 1013.2 601.4 1014.7 594.6 1016.2 603.6 1017.7 594.4 1019.2 596.0 1020.7 600.5 1022.2 598.9 1023.7 599.6 1025.2 599.1 1026.7 598.0 1028.2 597.6 1029.7 600.0 1031.2 601.2 1032.7 602.4 1034.2 601.4 1035.7 601.0 1037.2 605.4 1038.7 598.2 1040.2 603.2 1041.7 606.7 1043.2 608.8 1044.7 607.6 1046.2 607.8 1047.7 607.2 1049.2 604.5 1050.7 597.7 1052.2 601.3 1053.7 601.1 1055.2 605.3 1056.7 598.8 1058.2 599.1 1059.7 600.9 1061.2 598.8 1062.7 598.6 1064.2 599.0 1065.7 596.9 1067.2 598.0 1068.7 592.8 1070.2 592.7 1071.7 594.7 1073.2 597.8 1074.7 592.4 1076.2 592.4 1077.7 593.5 1079.2 595.8 1080.7 589.6 1082.2 593.6 1083.7 593.6 1085.2 594.6 1086.7 592.6 1088.2 601.2 1089.7 597.6 1091.2 592.5 1092.7 591.9 1094.2 586.7 1095.7 593.2 1097.2 589.7 1098.7 591.6 1100.2 591.2 1101.7 588.7 1103.2 588.7 1104.7 586.6 1106.2 594.1 1107.7 591.7 1109.2 591.0 1110.7 592.2 1112.2 592.2 1113.7 595.8 1115.2 589.1 1116.7 592.8 1118.2 583.1 1119.7 592.2 1121.2 583.9 1122.7 586.0 1124.2 579.6 1125.7 581.7 1127.2 585.4 1128.7 581.5 1130.2 585.0 1131.7 582.0 1133.2 583.9 1134.7 580.7 1136.2 581.6 1137.7 580.1 1139.2 585.6 1140.7 584.0 1142.2 583.9 1143.7 581.7 1145.2 582.9 1146.7 587.8 1148.2 584.5 1149.7 583.4 1151.2 585.5 1152.7 586.7 1154.2 583.2 1155.7 588.8 1157.2 584.6 1158.7 582.7 1160.2 587.2 1161.7 580.9 1163.2 582.5 1164.7 582.2 1166.2 580.3 1167.7 578.6 1169.2 579.4 1170.7 575.6 1172.2 583.0 1173.7 583.0 1175.2 580.5 1176.7 582.8 1178.2 578.8 1179.7 584.1 1181.2 579.9 1182.7 579.8 1184.2 585.4 1185.7 578.1 1187.2 581.3 1188.7 579.4 1190.2 580.4 1191.7 581.1 1193.2 580.7 1194.7 588.5 1196.2 584.9 1197.7 581.7 1199.2 588.0 1200.7 581.2 1202.2 580.6 1203.7 581.0 1205.2 578.4 1206.7 583.7 1208.2 577.8 1209.7 577.4 1211.2 583.7 1212.7 579.1 1214.2 581.3 1215.7 578.6 1217.2 581.2 1218.7 581.4 1220.2 575.4 1221.7 580.2 1223.2 585.0 1224.7 585.0 1226.2 586.3 1227.7 582.9 1229.2 583.6 1230.7 583.4 1232.2 583.8 1233.7 579.2 1235.2 580.0 1236.7 579.7 1238.2 577.0 1239.7 579.0 1241.2 580.8 1242.7 579.0 1244.2 582.8 1245.7 586.2 1247.2 582.6 1248.7 584.1 1250.2 584.0 1251.7 584.0 1253.2 583.0 1254.7 581.4 1256.2 585.5 1257.7 585.9 1259.2 582.6"/>
<path clip-path="url(#c3)" stroke="#000" d="M194.2 775.2L195.7 786.4 197.2 770.6 198.7 789.6 200.2 776.7 201.7 773.1 203.2 772.7 204.7 771.0 206.2 773.2 207.7 778.0 209.2 775.5 210.7 776.2 212.2 767.2 213.7 768.0 215.2 782.4 216.7 780.2 218.2 785.0 219.7 781.6 221.2 772.5 222.7 782.5 224.2 780.4 225.7 778.9 227.2 775.3 228.7 778.7 230.2 778.1 231.7 783.8 233.2 781.3 234.7 787.9 236.2 777.5 237.7 784.9 239.2 786.4 240.7 780.6 242.2 779.8 243.7 791.0 245.2 789.1 246.7 786.0 248.2 789.5 249.7 785.1 251.2 788.7 252.7 784.8 254.2 789.4 255.7 793.6 257.2 787.4 258.7 793.5 260.2 786.1 261.7 786.5 263.2 777.7 264.7 789.3 266.2 789.0 267.7 787.4 269.2 786.6 270.7 793.4 272.2 793.4 273.7 781.7 275.2 793.3 276.7 780.8 278.2 784.6 279.7 787.3 281.2 788.8 282.7 783.7 284.2 785.3 285.7 788.7 287.2 785.6 288.7 784.7 290.2 791.0 291.7 782.3 293.2 787.5 294.7 792.7 296.2 787.3 297.7 786.2 299.2 785.2 300.7 782.5 302.2 789.4 303.7 785.9 305.2 785.1 306.7 781.8 308.2 789.8 309.7 793.1 311.2 784.6 312.7 783.8 314.2 780.9 315.7 782.8 317.2 791.4 318.7 790.1 320.2 795.5 321.7 785.2 323.2 789.6 324.7 791.1 326.2 789.6 327.7 786.6 329.2 779.3 330.7 791.0 332.2 786.4 333.7 784.7 335.2 791.9 336.7 788.5 338.2 781.0 339.7 785.9 341.2 784.6 342.7 791.2 344.2 778.7 345.7 785.0 347.2 785.2 348.7 792.5 350.2 782.3 351.7 774.2 353.2 782.3 354.7 789.8 356.2 792.0 357.7 795.3 359.2 790.2 360.7 786.3 362.2 793.1 363.7 780.1 365.2 788.7 366.7 789.3 368.2 793.9 369.7 784.4 371.2 795.3 372.7 789.1 374.2 789.1 375.7 785.8 377.2 785.4 378.7 791.4 380.2 794.9 381.7 792.8 383.2 792.3 384.7 793.2 386.2 779.0 387.7 772.4 389.2 784.2 390.7 782.1 392.2 782.8 393.7 786.7 395.2 780.7 396.7 784.3 398.2 777.7 399.7 782.4 401.2 792.1 402.7 787.0 404.2 788.0 405.7 789.7 407.2 784.3 408.7 788.6 410.2 787.1 411.7 789.2 413.2 783.7 414.7 779.2 416.2 780.5 417.7 782.2 419.2 786.4 420.7 772.9 422.2 782.9 423.7 783.7 425.2 789.3 426.7 780.8 428.2 790.1 429.7 778.8 431.2 781.5 432.7 787.5 434.2 786.2 435.7 779.6 437.2 783.4 438.7 781.2 440.2 789.0 441.7 788.5 443.2 782.6 444.7 787.8 446.2 785.1 447.7 795.4 449.2 788.2 450.7 784.8 452.2 794.3 453.7 787.8 455.2 786.4 456.7 789.7 458.2 783.8 459.7 778.6 461.2 782.6 462.7 785.7 464.2 785.1 465.7 787.2 467.2 788.3 468.7 784.2 470.2 783.3 471.7 778.8 473.2 787.0 474.7 780.5 476.2 777.8 477.7 777.5 479.2 780.8 480.7 788.7 482.2 785.9 483.7 776.0 485.2 782.0 486.7 784.1 488.2 786.0 489.7 784.1 491.2 779.8 492.7 784.6 494.2 780.8 495.7 777.0 497.2 779.8 498.7 781.4 500.2 787.7 501.7 787.8 503.2 779.7 504.7 785.9 506.2 786.0 507.7 779.3 509.2 775.2 510.7 784.4 512.2 784.7 513.7 770.4 515.2 772.8 516.7 783.4 518.2 780.0 519.7 779.0 521.2 787.1 522.7 777.3 524.2 784.6 525.7 781.6 527.2 779.7 528.7 790.8 530.2 781.5 531.7 774.6 533.2 780.0 534.7 779.0 536.2 774.6 537.7 779.6 539.2 784.5 540.7 779.9 542.2 788.1 543.7 790.3 545.2 781.7 546.7 786.0 548.2 792.0 549.7 782.2 551.2 780.4 552.7 781.5 554.2 777.8 555.7 778.4 557.2 783.3 558.7 781.8 560.2 780.1 561.7 785.6 563.2 780.0 564.7 782.5 566.2 782.6 567.7 773.9 569.2 780.1 570.7 785.3 572.2 784.0 573.7 786.2 575.2 788.5 576.7 788.7 578.2 779.5 579.7 780.7 581.2 782.5 582.7 782.6 584.2 785.3 585.7 776.1 587.2 778.0 588.7 781.4 590.2 784.8 591.7 785.4 593.2 774.5 594.7 779.0 596.2 772.7 597.7 785.6 599.2 784.9 600.7 782.3 602.2 781.5 603.7 785.1 605.2 788.1 606.7 780.7 608.2 782.6 609.7 784.4 611.2 775.4 612.7 784.6 614.2 778.7 615.7 780.1 617.2 774.7 618.7 784.2 620.2 788.3 621.7 774.2 623.2 792.1 624.7 787.0 626.2 782.8 627.7 774.2 629.2 786.6 630.7 774.6 632.2 791.1 633.7 777.9 635.2 775.9 636.7 780.7 638.2 779.5 639.7 782.4 641.2 782.4 642.7 780.5 644.2 794.8 645.7 784.9 647.2 783.4 648.7 782.4 650.2 771.5 651.7 781.6 653.2 785.8 654.7 784.6 656.2 783.7 657.7 787.6 659.2 782.5 660.7 784.6 662.2 786.5 663.7 779.1 665.2 782.3 666.7 789.5 668.2 770.6 669.7 786.8 671.2 776.9 672.7 782.3 674.2 776.8 675.7 778.9 677.2 781.5 678.7 779.3 680.2 786.5 681.7 786.1 683.2 785.6 684.7 783.7 686.2 790.8 687.7 788.6 689.2 794.1 690.7 779.0 692.2 786.5 693.7 785.9 695.2 783.4 696.7 786.6 698.2 786.0 699.7 781.2 701.2 783.9 702.7 782.5 704.2 781.9 705.7 779.0 707.2 778.7 708.7 780.7 710.2 786.4 711.7 791.5 713.2 779.2 714.7 776.9 716.2 780.7 717.7 778.5 719.2 780.0 720.7 783.5 722.2 777.9 723.7 783.8 725.2 784.0 726.7 787.7 728.2 789.0 729.7 786.0 731.2 791.4 732.7 780.1 734.2 783.5 735.7 782.6 737.2 784.0 738.7 786.0 740.2 779.6 741.7 788.4 743.2 785.5 744.7 781.2 746.2 781.6 747.7 780.1 749.2 769.0 750.7 779.4 752.2 781.1 753.7 781.1 755.2 785.1 756.7 776.9 758.2 786.7 759.7 782.1 761.2 781.5 762.7 777.1 764.2 781.5 765.7 783.5 767.2 781.0 768.7 776.9 770.2 780.2 771.7 775.0 773.2 777.6 774.7 781.6 776.2 776.9 777.7 778.2 779.2 786.2 780.7 780.1 782.2 783.9 783.7 779.7 785.2 776.7 786.7 781.8 788.2 779.8 789.7 772.9 791.2 776.1 792.7 778.5 794.2 785.9 795.7 777.9 797.2 780.1 798.7 783.2 800.2 781.3 801.7 778.8 803.2 788.4 804.7 786.3 806.2 770.1 807.7 784.4 809.2 782.2 810.7 783.3 812.2 779.4 813.7 781.7 815.2 786.8 816.7 785.7 818.2 786.9 819.7 784.0 821.2 783.4 822.7 783.8 824.2 774.4 825.7 788.1 827.2 788.7 828.7 779.1 830.2 771.4 831.7 779.1 833.2 768.5 834.7 778.2 836.2 771.0 837.7 772.6 839.2 769.6 840.7 780.0 842.2 787.2 843.7 774.5 845.2 776.8 846.7 776.0 848.2 772.9 849.7 784.9 851.2 772.8 852.7 776.8 854.2 768.7 855.7 782.8 857.2 781.8 858.7 788.0 860.2 780.8 861.7 776.8 863.2 770.2 864.7 778.8 866.2 777.0 867.7 776.1 869.2 770.3 870.7 777.0 872.2 781.4 873.7 779.2 875.2 775.1 876.7 778.7 878.2 775.7 879.7 775.5 881.2 778.6 882.7 776.1 884.2 774.6 885.7 776.9 887.2 771.7 888.7 771.4 890.2 777.5 891.7 774.2 893.2 777.0 894.7 766.4 896.2 779.4 897.7 774.6 899.2 781.2 900.7 763.5 902.2 766.8 903.7 780.6 905.2 775.2 906.7 777.0 908.2 776.6 909.7 777.1 911.2 779.1 912.7 773.3 914.2 776.1 915.7 783.0 917.2 776.8 918.7 774.0 920.2 786.6 921.7 781.2 923.2 775.7 924.7 776.2 926.2 777.4 927.7 779.7 929.2 781.3 930.7 775.4 932.2 777.4 933.7 780.2 935.2 768.5 936.7 777.4 938.2 779.0 939.7 777.0 941.2 773.5 942.7 778.3 944.2 775.0 945.7 766.8 947.2 775.5 948.7 776.4 950.2 783.4 951.7 781.6 953.2 776.6 954.7 772.2 956.2 770.6 957.7 773.8 959.2 773.1 960.7 775.9 962.2 769.8 963.7 775.2 965.2 779.2 966.7 769.0 968.2 785.5 969.7 778.4 971.2 778.2 972.7 770.9 974.2 771.5 975.7 772.4 977.2 770.2 978.7 769.2 980.2 778.9 981.7 777.3 983.2 776.9 984.7 767.7 986.2 773.9 987.7 769.8 989.2 774.9 990.7 780.8 992.2 776.2 993.7 777.6 995.2 770.6 996.7 767.9 998.2 769.6 999.7 778.1 1001.2 780.1 1002.7 772.6 1004.2 773.9 1005.7 771.2 1007.2 765.1 1008.7 773.2 1010.2 773.9 1011.7 771.3 1013.2 772.6 1014.7 766.0 1016.2 775.2 1017.7 780.7 1019.2 774.1 1020.7 777.5 1022.2 777.4 1023.7 772.1 1025.2 776.4 1026.7 771.9 1028.2 787.3 1029.7 775.6 1031.2 769.9 1032.7 768.3 1034.2 780.8 1035.7 776.6 1037.2 775.4 1038.7 767.4 1040.2 770.9 1041.7 768.5 1043.2 778.2 1044.7 771.0 1046.2 781.5 1047.7 775.8 1049.2 772.8 1050.7 781.2 1052.2 766.1 1053.7 771.4 1055.2 773.3 1056.7 779.6 1058.2 780.3 1059.7 777.5 1061.2 767.8 1062.7 772.7 1064.2 769.4 1065.7 779.6 1067.2 771.9 1068.7 776.2 1070.2 781.4 1071.7 772.7 1073.2 775.5 1074.7 771.2 1076.2 773.2 1077.7 773.7 1079.2 773.8 1080.7 774.5 1082.2 772.8 1083.7 783.0 1085.2 772.0 1086.7 775.5 1088.2 773.3 1089.7 764.4 1091.2 776.9 1092.7 762.1 1094.2 766.6 1095.7 769.3 1097.2 765.2 1098.7 773.3 1100.2 779.8 1101.7 786.3 1103.2 767.6 1104.7 766.6 1106.2 775.2 1107.7 780.4 1109.2 772.6 1110.7 776.9 1112.2 766.3 1113.7 771.4 1115.2 773.4 1116.7 770.5 1118.2 770.4 1119.7 775.0 1121.2 768.8 1122.7 767.1 1124.2 775.0 1125.7 772.9 1127.2 768.5 1128.7 775.3 1130.2 770.5 1131.7 776.7 1133.2 773.4 1134.7 772.0 1136.2 771.1 1137.7 775.0 1139.2 773.5 1140.7 780.9 1142.2 760.8 1143.7 766.9 1145.2 781.5 1146.7 764.1 1148.2 780.8 1149.7 769.1 1151.2 768.8 1152.7 771.9 1154.2 773.7 1155.7 772.1 1157.2 770.6 1158.7 773.5 1160.2 757.1 1161.7 773.3 1163.2 766.3 1164.7 768.3 1166.2 769.6 1167.7 773.1 1169.2 778.2 1170.7 770.1 1172.2 769.7 1173.7 767.8 1175.2 770.7 1176.7 775.5 1178.2 768.6 1179.7 770.2 1181.2 768.4 1182.7 771.6 1184.2 762.8 1185.7 773.0 1187.2 763.1 1188.7 768.6 1190.2 771.1 1191.7 767.5 1193.2 776.3 1194.7 774.8 1196.2 783.9 1197.7 769.9 1199.2 768.2 1200.7 769.7 1202.2 765.8 1203.7 772.7 1205.2 773.7 1206.7 775.9 1208.2 773.8 1209.7 770.4 1211.2 778.1 1212.7 774.6 1214.2 775.5 1215.7 766.1 1217.2 767.2 1218.7 767.9 1220.2 768.8 1221.7 761.1 1223.2 775.3 1224.7 768.5 1226.2 772.3 1227.7 772.1 1229.2 776.1 1230.7 772.6 1232.2 771.3 1233.7 766.6 1235.2 770.5 1236.7 777.6 1238.2 762.3 1239.7 767.6 1241.2 771.8 1242.7 777.3 1244.2 765.6 1245.7 768.4 1247.2 771.6 1248.7 784.0 1250.2 767.5 1251.7 771.0 1253.2 775.7 1254.7 768.6 1256.2 773.2 1257.7 775.6 1259.2 769.8"/>
<path clip-path="url(#c3)" stroke="#f00" d="M193.7 1084.0L194.2 824.6 195.7 822.0 197.2 816.0 198.7 821.6 200.2 824.1 201.7 811.2 203.2 820.8 204.7 821.3 206.2 813.7 207.7 811.9 209.2 815.7 210.7 819.0 212.2 822.0 213.7 820.7 215.2 811.6 216.7 811.8 218.2 810.9 219.7 808.6 221.2 811.7 222.7 815.8 224.2 819.4 225.7 814.4 227.2 824.3 228.7 820.3 230.2 819.5 231.7 814.6 233.2 832.5 234.7 825.8 236.2 821.3 237.7 827.3 239.2 832.7 240.7 822.7 242.2 831.0 243.7 831.9 245.2 816.8 246.7 833.6 248.2 827.2 249.7 824.2 251.2 826.6 252.7 830.9 254.2 830.4 255.7 830.0 257.2 826.3 258.7 835.2 260.2 835.1 261.7 836.9 263.2 833.5 264.7 832.0 266.2 841.5 267.7 836.7 269.2 838.0 270.7 837.4 272.2 837.7 273.7 840.4 275.2 829.9 276.7 836.3 278.2 839.6 279.7 828.0 281.2 831.0 282.7 844.6 284.2 832.3 285.7 835.0 287.2 838.4 288.7 834.6 290.2 833.3 291.7 834.9 293.2 835.3 294.7 834.0 296.2 837.6 297.7 850.5 299.2 838.5 300.7 844.0 302.2 839.9 303.7 840.8 305.2 839.7 306.7 836.8 308.2 839.8 309.7 838.8 311.2 833.3 312.7 830.2 314.2 841.0 315.7 840.8 317.2 836.7 318.7 827.5 320.2 844.8 321.7 839.1 323.2 831.0 324.7 843.5 326.2 838.4 327.7 844.0 329.2 833.1 330.7 846.2 332.2 842.7 333.7 842.9 335.2 841.8 336.7 845.8 338.2 834.4 339.7 845.1 341.2 843.0 342.7 838.6 344.2 840.2 345.7 839.2 347.2 841.0 348.7 845.7 350.2 839.0 351.7 845.4 353.2 846.2 354.7 845.3 356.2 848.7 357.7 842.4 359.2 845.4 360.7 853.1 362.2 843.2 363.7 842.6 365.2 843.2 366.7 846.5 368.2 840.8 369.7 843.2 371.2 836.8 372.7 839.9 374.2 840.3 375.7 846.2 377.2 842.2 378.7 846.7 380.2 841.0 381.7 837.7 383.2 843.5 384.7 853.5 386.2 836.0 387.7 842.4 389.2 837.3 390.7 838.7 392.2 848.7 393.7 835.9 395.2 844.0 396.7 842.5 398.2 843.9 399.7 848.3 401.2 848.8 402.7 840.2 404.2 849.7 405.7 846.1 407.2 850.1 408.7 858.2 410.2 842.5 411.7 845.8 413.2 844.2 414.7 847.5 416.2 853.3 417.7 847.6 419.2 842.9 420.7 857.3 422.2 842.1 423.7 846.0 425.2 845.8 426.7 840.7 428.2 848.1 429.7 848.8 431.2 847.8 432.7 843.6 434.2 843.0 435.7 836.4 437.2 845.0 438.7 838.5 440.2 839.0 441.7 857.1 443.2 849.4 444.7 842.3 446.2 851.4 447.7 858.1 449.2 847.4 450.7 846.9 452.2 847.7 453.7 846.4 455.2 843.5 456.7 849.7 458.2 850.4 459.7 840.6 461.2 846.2 462.7 846.0 464.2 844.6 465.7 839.9 467.2 842.5 468.7 853.5 470.2 848.3 471.7 849.1 473.2 856.5 474.7 846.4 476.2 850.2 477.7 842.9 479.2 850.9 480.7 850.3 482.2 846.5 483.7 840.8 485.2 841.1 486.7 849.4 488.2 835.7 489.7 852.3 491.2 850.0 492.7 847.6 494.2 849.0 495.7 851.6 497.2 849.3 498.7 845.2 500.2 850.3 501.7 851.7 503.2 847.3 504.7 851.6 506.2 851.5 507.7 843.3 509.2 849.0 510.7 847.7 512.2 848.2 513.7 851.3 515.2 845.9 516.7 847.4 518.2 844.6 519.7 844.3 521.2 846.9 522.7 858.5 524.2 847.0 525.7 849.8 527.2 848.7 528.7 848.3 530.2 848.4 531.7 857.0 533.2 847.4 534.7 854.5 536.2 850.4 537.7 843.3 539.2 843.8 540.7 843.3 542.2 840.9 543.7 849.4 545.2 845.7 546.7 846.7 548.2 840.4 549.7 846.3 551.2 842.5 552.7 855.3 554.2 846.4 555.7 848.5 557.2 849.4 558.7 846.4 560.2 846.4 561.7 846.4 563.2 851.7 564.7 845.0 566.2 846.5 567.7 847.5 569.2 844.2 570.7 840.5 572.2 841.1 573.7 844.1 575.2 842.0 576.7 849.8 578.2 846.0 579.7 847.3 581.2 843.5 582.7 849.6 584.2 852.1 585.7 843.9 587.2 845.4 588.7 858.2 590.2 845.6 591.7 844.5 593.2 851.7 594.7 850.2 596.2 846.4 597.7 853.1 599.2 840.8 600.7 856.1 602.2 839.5 603.7 852.2 605.2 847.1 606.7 858.1 608.2 849.7 609.7 849.9 611.2 844.0 612.7 843.7 614.2 846.3 615.7 851.5 617.2 843.1 618.7 837.4 620.2 850.0 621.7 850.0 623.2 842.5 624.7 847.7 626.2 850.8 627.7 851.7 629.2 840.7 630.7 847.6 632.2 844.3 633.7 851.3 635.2 847.3 636.7 841.7 638.2 847.1 639.7 848.9 641.2 839.7 642.7 840.7 644.2 843.9 645.7 845.0 647.2 844.6 648.7 840.4 650.2 830.1 651.7 848.0 653.2 849.9 654.7 845.2 656.2 849.1 657.7 855.6 659.2 847.4 660.7 845.8 662.2 844.1 663.7 848.4 665.2 856.2 666.7 846.7 668.2 843.7 669.7 848.0 671.2 848.7 672.7 846.4 674.2 849.8 675.7 837.8 677.2 850.4 678.7 847.9 680.2 851.4 681.7 855.6 683.2 847.1 684.7 845.9 686.2 840.9 687.7 852.4 689.2 853.6 690.7 847.9 692.2 849.6 693.7 854.5 695.2 849.8 696.7 841.3 698.2 843.3 699.7 844.5 701.2 848.8 702.7 845.5 704.2 853.3 705.7 845.2 707.2 853.8 708.7 844.4 710.2 853.0 711.7 849.6 713.2 861.3 714.7 847.9 716.2 855.5 717.7 852.4 719.2 845.0 720.7 845.0 722.2 834.8 723.7 853.6 725.2 850.3 726.7 850.1 728.2 841.2 729.7 857.5 731.2 843.8 732.7 850.9 734.2 840.1 735.7 838.7 737.2 852.6 738.7 851.8 740.2 843.2 741.7 846.8 743.2 851.5 744.7 839.1 746.2 849.5 747.7 839.6 749.2 848.6 750.7 844.8 752.2 850.4 753.7 844.4 755.2 845.9 756.7 845.2 758.2 841.8 759.7 844.6 761.2 842.3 762.7 844.8 764.2 850.2 765.7 845.7 767.2 852.0 768.7 850.1 770.2 850.7 771.7 842.7 773.2 849.8 774.7 853.6 776.2 850.9 777.7 852.2 779.2 854.7 780.7 841.3 782.2 850.0 783.7 850.7 785.2 848.8 786.7 843.2 788.2 849.1 789.7 847.2 791.2 855.7 792.7 851.3 794.2 844.3 795.7 842.0 797.2 841.6 798.7 840.2 800.2 841.1 801.7 852.7 803.2 840.3 804.7 845.4 806.2 846.7 807.7 847.4 809.2 842.2 810.7 840.5 812.2 848.4 813.7 849.4 815.2 856.7 816.7 846.5 818.2 847.5 819.7 855.7 821.2 841.9 822.7 852.7 824.2 843.3 825.7 839.2 827.2 850.4 828.7 849.9 830.2 844.3 831.7 847.9 833.2 850.0 834.7 844.1 836.2 846.1 837.7 840.8 839.2 831.2 840.7 846.0 842.2 845.4 843.7 852.5 845.2 845.2 846.7 841.0 848.2 848.9 849.7 842.2 851.2 847.4 852.7 852.6 854.2 842.1 855.7 842.4 857.2 851.3 858.7 848.2 860.2 844.8 861.7 847.1 863.2 843.3 864.7 847.0 866.2 842.1 867.7 843.5 869.2 837.6 870.7 838.8 872.2 849.3 873.7 842.4 875.2 848.2 876.7 839.4 878.2 840.3 879.7 837.7 881.2 841.3 882.7 837.8 884.2 837.9 885.7 837.0 887.2 851.2 888.7 841.1 890.2 838.7 891.7 839.2 893.2 845.7 894.7 847.0 896.2 844.9 897.7 835.9 899.2 847.9 900.7 848.1 902.2 847.6 903.7 846.4 905.2 845.5 906.7 849.7 908.2 843.0 909.7 848.3 911.2 841.9 912.7 843.0 914.2 849.0 915.7 843.3 917.2 843.6 918.7 848.0 920.2 851.6 921.7 834.6 923.2 840.7 924.7 850.3 926.2 843.5 927.7 846.3 929.2 845.5 930.7 847.8 932.2 841.3 933.7 849.6 935.2 848.0 936.7 835.7 938.2 844.6 939.7 843.4 941.2 858.1 942.7 844.3 944.2 842.1 945.7 843.0 947.2 846.9 948.7 845.9 950.2 845.8 951.7 854.6 953.2 846.8 954.7 840.6 956.2 845.9 957.7 846.1 959.2 841.1 960.7 845.1 962.2 840.5 963.7 833.7 965.2 846.5 966.7 848.2 968.2 847.7 969.7 843.9 971.2 842.1 972.7 846.4 974.2 847.5 975.7 849.7 977.2 851.5 978.7 848.5 980.2 842.6 981.7 833.4 983.2 839.8 984.7 849.1 986.2 849.7 987.7 849.3 989.2 846.7 990.7 849.4 992.2 841.2 993.7 846.5 995.2 843.8 996.7 844.7 998.2 837.9 999.7 842.1 1001.2 837.4 1002.7 844.5 1004.2 844.3 1005.7 847.8 1007.2 838.5 1008.7 844.5 1010.2 836.3 1011.7 837.0 1013.2 852.8 1014.7 848.1 1016.2 842.5 1017.7 853.4 1019.2 851.8 1020.7 836.7 1022.2 844.5 1023.7 842.9 1025.2 845.0 1026.7 841.7 1028.2 844.5 1029.7 845.6 1031.2 834.1 1032.7 844.4 1034.2 849.4 1035.7 844.2 1037.2 848.8 1038.7 851.2 1040.2 845.2 1041.7 846.2 1043.2 847.4 1044.7 843.9 1046.2 855.7 1047.7 849.4 1049.2 850.1 1050.7 851.1 1052.2 853.4 1053.7 841.5 1055.2 842.2 1056.7 846.6 1058.2 848.8 1059.7 840.8 1061.2 839.8 1062.7 848.9 1064.2 848.6 1065.7 843.7 1067.2 843.6 1068.7 841.9 1070.2 838.9 1071.7 840.3 1073.2 845.8 1074.7 844.4 1076.2 849.7 1077.7 839.5 1079.2 838.1 1080.7 847.5 1082.2 841.6 1083.7 844.7 1085.2 845.2 1086.7 839.3 1088.2 837.7 1089.7 845.0 1091.2 833.3 1092.7 847.7 1094.2 838.6 1095.7 849.0 1097.2 846.8 1098.7 846.5 1100.2 846.5 1101.7 845.7 1103.2 838.7 1104.7 848.0 1106.2 844.1 1107.7 844.6 1109.2 842.4 1110.7 841.8 1112.2 846.5 1113.7 847.5 1115.2 843.3 1116.7 837.1 1118.2 837.8 1119.7 838.3 1121.2 847.4 1122.7 844.1 1124.2 843.1 1125.7 842.5 1127.2 839.0 1128.7 846.0 1130.2 839.0 1131.7 838.3 1133.2 856.1 1134.7 843.6 1136.2 841.2 1137.7 835.3 1139.2 835.2 1140.7 844.4 1142.2 842.8 1143.7 846.7 1145.2 844.2 1146.7 841.7 1148.2 837.6 1149.7 843.6 1151.2 833.6 1152.7 842.8 1154.2 846.9 1155.7 836.0 1157.2 833.9 1158.7 835.7 1160.2 833.8 1161.7 841.8 1163.2 840.9 1164.7 837.8 1166.2 841.0 1167.7 848.8 1169.2 841.4 1170.7 841.3 1172.2 850.8 1173.7 838.9 1175.2 840.4 1176.7 848.2 1178.2 841.7 1179.7 832.8 1181.2 836.8 1182.7 831.0 1184.2 839.4 1185.7 841.7 1187.2 833.2 1188.7 846.3 1190.2 845.5 1191.7 844.0 1193.2 838.0 1194.7 840.7 1196.2 842.2 1197.7 844.6 1199.2 846.0 1200.7 832.3 1202.2 838.6 1203.7 837.1 1205.2 840.1 1206.7 843.1 1208.2 851.7 1209.7 841.8 1211.2 845.0 1212.7 841.4 1214.2 839.9 1215.7 846.8 1217.2 835.1 1218.7 842.8 1220.2 847.8 1221.7 854.1 1223.2 838.4 1224.7 835.9 1226.2 835.2 1227.7 838.6 1229.2 839.7 1230.7 839.3 1232.2 844.7 1233.7 840.0 1235.2 842.4 1236.7 833.4 1238.2 838.7 1239.7 840.9 1241.2 832.5 1242.7 844.2 1244.2 847.4 1245.7 843.7 1247.2 843.7 1248.7 845.5 1250.2 837.8 1251.7 837.6 1253.2 841.1 1254.7 842.7 1256.2 842.7 1257.7 842.4 1259.2 837.0"/>
<path clip-path="url(#c3)" stroke="#00f" d="M193.7 1084.0L194.2 1055.3 195.7 1043.0 197.2 1030.1 198.7 1012.3 200.2 1020.0 201.7 1008.8 203.2 1017.3 204.7 1014.0 206.2 1012.6 207.7 1010.3 209.2 1007.3 210.7 1003.7 212.2 1003.7 213.7 1009.2 215.2 1001.9 216.7 1002.5 218.2 1000.4 219.7 1000.5 221.2 1001.5 222.7 1002.9 224.2 1001.2 225.7 1000.4 227.2 999.0 228.7 1000.6 230.2 995.8 231.7 1005.0 233.2 1008.9 234.7 997.0 236.2 1000.5 237.7 1010.7 239.2 997.4 240.7 996.0 242.2 1000.2 243.7 1008.2 245.2 1008.2 246.7 996.6 248.2 1004.0 249.7 1010.4 251.2 999.9 252.7 995.1 254.2 1004.9 255.7 998.4 257.2 1002.1 258.7 1001.9 260.2 1007.8 261.7 1004.3 263.2 995.8 264.7 998.9 266.2 1003.9 267.7 995.7 269.2 998.6 270.7 1000.5 272.2 994.2 273.7 995.6 275.2 994.3 276.7 1001.4 278.2 998.3 279.7 1004.0 281.2 1001.2 282.7 1003.5 284.2 1002.2 285.7 1005.3 287.2 1002.9 288.7 999.6 290.2 1008.0 291.7 1007.0 293.2 1010.3 294.7 1002.4 296.2 1000.1 297.7 996.1 299.2 987.3 300.7 995.9 302.2 1002.0 303.7 996.9 305.2 991.8 306.7 1004.3 308.2 999.9 309.7 1001.4 311.2 1011.3 312.7 1003.7 314.2 1006.8 315.7 1000.0 317.2 1005.6 318.7 1004.2 320.2 1015.0 321.7 1011.1 323.2 1012.1 324.7 1018.6 326.2 1011.3 327.7 1003.3 329.2 1009.0 330.7 1007.3 332.2 1001.2 333.7 1005.5 335.2 1005.4 336.7 1004.0 338.2 1005.1 339.7 1004.1 341.2 1007.6 342.7 1010.1 344.2 1006.2 345.7 1004.1 347.2 1016.9 348.7 1009.0 350.2 1009.9 351.7 1008.9 353.2 1007.5 354.7 1011.9 356.2 1017.6 357.7 1018.6 359.2 1005.1 360.7 1004.6 362.2 1009.7 363.7 1018.2 365.2 1013.0 366.7 1019.4 368.2 1014.0 369.7 1014.1 371.2 1011.5 372.7 1013.7 374.2 1020.5 375.7 1019.3 377.2 1012.4 378.7 1012.8 380.2 1019.5 381.7 1012.9 383.2 1026.7 384.7 1012.5 386.2 1018.2 387.7 1021.0 389.2 1018.5 390.7 1015.5 392.2 1015.2 393.7 1014.0 395.2 1014.6 396.7 1019.1 398.2 1018.8 399.7 1023.7 401.2 1010.5 402.7 1012.8 404.2 1016.3 405.7 1015.3 407.2 1010.2 408.7 1017.2 410.2 1022.8 411.7 1009.7 413.2 1014.1 414.7 1019.4 416.2 1012.4 417.7 1011.4 419.2 1013.7 420.7 1015.8 422.2 1012.5 423.7 1017.9 425.2 1007.9 426.7 1017.1 428.2 1016.0 429.7 1015.3 431.2 1017.5 432.7 1015.2 434.2 1018.9 435.7 1012.5 437.2 1014.0 438.7 1009.1 440.2 1010.3 441.7 1013.5 443.2 1008.6 444.7 1010.5 446.2 1009.9 447.7 1012.8 449.2 1014.5 450.7 1016.8 452.2 1005.7 453.7 1012.0 455.2 1016.1 456.7 1017.4 458.2 1017.5 459.7 1006.3 461.2 1010.1 462.7 1013.9 464.2 1014.8 465.7 1012.6 467.2 1011.7 468.7 1010.5 470.2 1008.7 471.7 1009.8 473.2 1012.0 474.7 1008.2 476.2 1013.9 477.7 999.9 479.2 1008.8 480.7 1023.6 482.2 1013.5 483.7 1016.0 485.2 1012.0 486.7 1008.7 488.2 1010.6 489.7 1018.2 491.2 1006.9 492.7 1010.5 494.2 1008.6 495.7 1012.9 497.2 1013.1 498.7 1028.2 500.2 1013.9 501.7 1021.1 503.2 1017.2 504.7 1013.2 506.2 1011.9 507.7 1010.7 509.2 1016.1 510.7 1022.7 512.2 1014.7 513.7 1012.7 515.2 1016.6 516.7 1015.1 518.2 1013.6 519.7 1010.5 521.2 1016.7 522.7 1022.9 524.2 1021.8 525.7 1020.5 527.2 1017.3 528.7 1017.6 530.2 1019.3 531.7 1015.6 533.2 1015.9 534.7 1013.4 536.2 1022.9 537.7 1010.5 539.2 1016.8 540.7 1017.9 542.2 1018.1 543.7 1018.3 545.2 1014.7 546.7 1015.0 548.2 1015.6 549.7 1016.6 551.2 1013.9 552.7 1016.2 554.2 1015.1 555.7 1013.6 557.2 1017.9 558.7 1013.6 560.2 1016.3 561.7 1020.3 563.2 1020.6 564.7 1015.5 566.2 1018.2 567.7 1015.0 569.2 1022.9 570.7 1020.2 572.2 1018.7 573.7 1015.4 575.2 1015.1 576.7 1018.2 578.2 1016.3 579.7 1024.8 581.2 1020.7 582.7 1014.4 584.2 1011.7 585.7 1015.2 587.2 1014.0 588.7 1018.1 590.2 1015.9 591.7 1018.4 593.2 1012.5 594.7 1025.4 596.2 1021.3 597.7 1017.1 599.2 1021.3 600.7 1025.3 602.2 1024.0 603.7 1024.5 605.2 1022.2 606.7 1022.9 608.2 1016.4 609.7 1013.5 611.2 1016.1 612.7 1021.5 614.2 1022.6 615.7 1017.9 617.2 1023.2 618.7 1021.6 620.2 1018.1 621.7 1015.9 623.2 1017.2 624.7 1020.4 626.2 1025.4 627.7 1023.8 629.2 1016.2 630.7 1016.2 632.2 1023.6 633.7 1021.8 635.2 1017.0 636.7 1022.8 638.2 1025.2 639.7 1022.6 641.2 1020.5 642.7 1025.2 644.2 1019.6 645.7 1018.7 647.2 1016.5 648.7 1025.5 650.2 1025.9 651.7 1028.9 653.2 1020.6 654.7 1018.8 656.2 1027.5 657.7 1020.4 659.2 1017.9 660.7 1014.9 662.2 1014.8 663.7 1013.0 665.2 1007.1 666.7 1015.5 668.2 1012.4 669.7 1014.0 671.2 1013.1 672.7 1009.9 674.2 1011.8 675.7 1017.6 677.2 1013.0 678.7 1009.5 680.2 1009.7 681.7 1014.4 683.2 1014.6 684.7 1014.9 686.2 1013.3 687.7 1016.1 689.2 1014.3 690.7 1022.8 692.2 1012.0 693.7 1011.5 695.2 1020.4 696.7 1014.2 698.2 1011.6 699.7 1016.3 701.2 1007.5 702.7 1016.8 704.2 1015.1 705.7 1015.9 707.2 1012.7 708.7 1019.1 710.2 1015.7 711.7 1014.5 713.2 1016.1 714.7 1011.7 716.2 1014.3 717.7 1009.9 719.2 1011.4 720.7 1016.1 722.2 1016.7 723.7 1018.2 725.2 1013.5 726.7 1014.2 728.2 1011.9 729.7 1015.2 731.2 1017.5 732.7 1019.4 734.2 1018.7 735.7 1013.9 737.2 1018.2 738.7 1014.1 740.2 1011.8 741.7 1020.0 743.2 1020.4 744.7 1022.6 746.2 1023.2 747.7 1016.0 749.2 1018.1 750.7 1021.4 752.2 1021.8 753.7 1023.0 755.2 1016.6 756.7 1019.5 758.2 1022.7 759.7 1025.8 761.2 1021.2 762.7 1034.7 764.2 1018.1 765.7 1013.9 767.2 1023.3 768.7 1015.1 770.2 1014.6 771.7 1020.6 773.2 1021.7 774.7 1018.2 776.2 1014.3 777.7 1011.3 779.2 1022.5 780.7 1008.8 782.2 1011.5 783.7 1020.8 785.2 1019.1 786.7 1021.7 788.2 1019.3 789.7 1014.8 791.2 1022.0 792.7 1011.3 794.2 1019.7 795.7 1022.5 797.2 1014.2 798.7 1021.8 800.2 1018.1 801.7 1016.9 803.2 1010.0 804.7 1017.1 806.2 1020.7 807.7 1011.4 809.2 1015.6 810.7 1015.0 812.2 1011.9 813.7 1021.7 815.2 1018.6 816.7 1019.2 818.2 1023.1 819.7 1017.5 821.2 1032.3 822.7 1019.3 824.2 1016.3 825.7 1022.2 827.2 1027.3 828.7 1016.5 830.2 1016.6 831.7 1021.3 833.2 1019.2 834.7 1019.5 836.2 1021.1 837.7 1016.4 839.2 1022.8 840.7 1018.4 842.2 1021.3 843.7 1015.1 845.2 1028.7 846.7 1020.4 848.2 1028.3 849.7 1019.9 851.2 1037.0 852.7 1023.5 854.2 1026.5 855.7 1020.7 857.2 1021.9 858.7 1010.9 860.2 1013.7 861.7 1020.5 863.2 1018.2 864.7 1017.2 866.2 1012.4 867.7 1015.1 869.2 1011.0 870.7 1011.2 872.2 1017.3 873.7 1016.8 875.2 1012.2 876.7 1013.5 878.2 1014.0 879.7 1012.9 881.2 1013.3 882.7 1009.8 884.2 1014.6 885.7 1006.7 887.2 1007.3 888.7 1014.7 890.2 1016.9 891.7 1017.0 893.2 1011.1 894.7 1008.5 896.2 1011.1 897.7 1014.0 899.2 1014.9 900.7 1007.9 902.2 1004.1 903.7 1004.7 905.2 1017.5 906.7 1006.3 908.2 1009.5 909.7 1015.0 911.2 1013.1 912.7 1008.4 914.2 1013.2 915.7 1012.7 917.2 1010.9 918.7 1007.9 920.2 1008.7 921.7 1002.8 923.2 1012.5 924.7 1016.3 926.2 1005.9 927.7 1011.4 929.2 1013.4 930.7 1012.9 932.2 1014.1 933.7 1022.4 935.2 1010.2 936.7 1012.2 938.2 1013.0 939.7 1015.3 941.2 1016.0 942.7 1011.1 944.2 1012.6 945.7 1017.5 947.2 1008.6 948.7 1014.1 950.2 1014.4 951.7 1011.2 953.2 1001.0 954.7 1015.4 956.2 1009.9 957.7 1008.5 959.2 1008.8 960.7 1007.4 962.2 1010.3 963.7 1013.5 965.2 1007.6 966.7 1012.1 968.2 1009.0 969.7 1009.8 971.2 1009.0 972.7 1010.9 974.2 1013.3 975.7 1009.2 977.2 1012.4 978.7 1014.7 980.2 1014.8 981.7 1011.6 983.2 1007.5 984.7 1007.6 986.2 1011.5 987.7 1006.7 989.2 1004.7 990.7 1011.2 992.2 1010.2 993.7 1007.4 995.2 1015.3 996.7 1002.9 998.2 1001.0 999.7 1006.7 1001.2 1003.8 1002.7 1009.4 1004.2 1005.5 1005.7 1005.2 1007.2 1009.1 1008.7 1006.6 1010.2 1000.7 1011.7 1004.6 1013.2 1009.0 1014.7 1007.0 1016.2 1008.9 1017.7 1021.0 1019.2 1008.7 1020.7 1006.3 1022.2 1003.6 1023.7 1007.3 1025.2 1011.5 1026.7 1010.7 1028.2 1009.4 1029.7 1003.6 1031.2 1007.7 1032.7 1007.7 1034.2 1009.1 1035.7 1007.6 1037.2 1002.6 1038.7 1005.5 1040.2 1005.3 1041.7 1002.0 1043.2 1005.4 1044.7 1003.0 1046.2 1008.4 1047.7 1003.5 1049.2 1005.8 1050.7 1004.1 1052.2 1008.9 1053.7 1001.9 1055.2 1006.6 1056.7 1003.6 1058.2 1008.9 1059.7 1001.9 1061.2 998.0 1062.7 1003.8 1064.2 1005.2 1065.7 1000.6 1067.2 998.2 1068.7 1005.3 1070.2 1006.1 1071.7 1004.6 1073.2 1002.4 1074.7 1003.0 1076.2 1007.8 1077.7 1004.2 1079.2 998.8 1080.7 998.4 1082.2 1003.9 1083.7 1004.9 1085.2 1001.1 1086.7 1000.9 1088.2 1006.3 1089.7 1001.9 1091.2 1006.0 1092.7 1008.8 1094.2 999.0 1095.7 1004.6 1097.2 1001.7 1098.7 999.2 1100.2 994.2 1101.7 999.9 1103.2 997.6 1104.7 998.8 1106.2 1003.6 1107.7 1002.1 1109.2 1001.1 1110.7 998.3 1112.2 995.1 1113.7 996.7 1115.2 997.5 1116.7 1002.7 1118.2 994.9 1119.7 996.5 1121.2 998.2 1122.7 998.9 1124.2 1001.3 1125.7 1002.7 1127.2 998.0 1128.7 1006.3 1130.2 1002.6 1131.7 997.1 1133.2 999.9 1134.7 998.3 1136.2 998.7 1137.7 1002.2 1139.2 996.1 1140.7 996.9 1142.2 994.7 1143.7 997.7 1145.2 991.5 1146.7 997.4 1148.2 997.9 1149.7 992.7 1151.2 994.3 1152.7 993.2 1154.2 1001.6 1155.7 988.2 1157.2 983.8 1158.7 987.2 1160.2 994.6 1161.7 991.4 1163.2 996.6 1164.7 991.3 1166.2 995.1 1167.7 986.4 1169.2 995.8 1170.7 996.5 1172.2 989.8 1173.7 997.1 1175.2 1002.2 1176.7 1001.8 1178.2 990.8 1179.7 991.1 1181.2 1001.7 1182.7 995.6 1184.2 998.3 1185.7 990.0 1187.2 997.3 1188.7 984.4 1190.2 987.8 1191.7 991.3 1193.2 982.0 1194.7 990.8 1196.2 992.2 1197.7 999.8 1199.2 986.9 1200.7 983.5 1202.2 988.1 1203.7 984.5 1205.2 981.8 1206.7 984.9 1208.2 982.4 1209.7 994.3 1211.2 990.0 1212.7 990.5 1214.2 982.8 1215.7 991.3 1217.2 984.7 1218.7 988.3 1220.2 982.0 1221.7 987.8 1223.2 979.0 1224.7 983.7 1226.2 992.2 1227.7 979.8 1229.2 983.6 1230.7 981.3 1232.2 981.0 1233.7 983.7 1235.2 984.5 1236.7 978.3 1238.2 983.3 1239.7 981.0 1241.2 979.0 1242.7 982.5 1244.2 980.4 1245.7 982.8 1247.2 980.2 1248.7 977.8 1250.2 979.3 1251.7 983.1 1253.2 983.7 1254.7 982.4 1256.2 975.7 1257.7 982.3 1259.2 977.9"/>
<path clip-path="url(#c3)" stroke="#f0f" d="M193.7 1084.0L194.2 1008.9 195.7 1003.1 197.2 989.1 198.7 987.5 200.2 981.3 201.7 978.8 203.2 980.9 204.7 973.2 206.2 981.4 207.7 973.8 209.2 976.1 210.7 978.7 212.2 977.7 213.7 973.0 215.2 980.3 216.7 974.2 218.2 968.3 219.7 970.7 221.2 967.3 222.7 972.1 224.2 974.1 225.7 972.4 227.2 963.7 228.7 974.8 230.2 973.9 231.7 976.3 233.2 969.0 234.7 964.4 236.2 967.3 237.7 971.7 239.2 980.0 240.7 975.4 242.2 976.9 243.7 969.2 245.2 970.5 246.7 971.6 248.2 976.7 249.7 970.1 251.2 971.3 252.7 977.6 254.2 968.6 255.7 972.8 257.2 968.6 258.7 974.4 260.2 977.0 261.7 979.2 263.2 970.3 264.7 965.2 266.2 976.8 267.7 981.4 269.2 972.1 270.7 975.1 272.2 973.5 273.7 966.0 275.2 963.7 276.7 978.1 278.2 974.6 279.7 967.0 281.2 971.2 282.7 969.7 284.2 970.1 285.7 968.7 287.2 978.4 288.7 974.4 290.2 973.4 291.7 972.1 293.2 975.3 294.7 973.0 296.2 974.6 297.7 970.2 299.2 975.3 300.7 972.9 302.2 975.0 303.7 967.2 305.2 970.9 306.7 969.4 308.2 979.0 309.7 971.1 311.2 973.8 312.7 965.9 314.2 969.1 315.7 966.7 317.2 973.8 318.7 969.9 320.2 980.0 321.7 971.7 323.2 979.8 324.7 975.2 326.2 979.6 327.7 974.6 329.2 976.9 330.7 976.0 332.2 983.2 333.7 979.4 335.2 972.0 336.7 976.9 338.2 979.5 339.7 980.0 341.2 972.2 342.7 984.9 344.2 973.7 345.7 974.9 347.2 978.0 348.7 975.5 350.2 978.6 351.7 989.0 353.2 968.1 354.7 982.7 356.2 991.5 357.7 985.7 359.2 981.3 360.7 981.5 362.2 986.9 363.7 980.5 365.2 980.1 366.7 979.8 368.2 980.6 369.7 984.5 371.2 974.3 372.7 982.4 374.2 968.9 375.7 979.0 377.2 976.1 378.7 983.0 380.2 981.9 381.7 981.5 383.2 981.7 384.7 981.7 386.2 972.6 387.7 982.4 389.2 976.5 390.7 985.9 392.2 979.0 393.7 980.6 395.2 979.8 396.7 981.3 398.2 981.2 399.7 982.8 401.2 975.9 402.7 986.2 404.2 976.1 405.7 979.2 407.2 970.4 408.7 981.1 410.2 984.3 411.7 985.9 413.2 983.5 414.7 983.8 416.2 981.0 417.7 981.7 419.2 984.3 420.7 987.8 422.2 982.0 423.7 990.6 425.2 989.3 426.7 987.4 428.2 987.4 429.7 985.3 431.2 992.8 432.7 988.3 434.2 993.4 435.7 987.9 437.2 991.8 438.7 983.0 440.2 995.7 441.7 983.7 443.2 987.4 444.7 986.4 446.2 986.5 447.7 988.3 449.2 994.3 450.7 990.0 452.2 990.6 453.7 993.3 455.2 992.6 456.7 995.1 458.2 990.0 459.7 984.3 461.2 1004.9 462.7 990.0 464.2 987.8 465.7 991.3 467.2 988.6 468.7 987.2 470.2 987.2 471.7 990.5 473.2 987.3 474.7 991.5 476.2 989.5 477.7 988.5 479.2 991.2 480.7 996.9 482.2 995.2 483.7 990.3 485.2 984.6 486.7 989.8 488.2 996.0 489.7 995.2 491.2 986.4 492.7 991.7 494.2 986.7 495.7 987.9 497.2 984.5 498.7 984.4 500.2 988.5 501.7 993.6 503.2 998.8 504.7 986.2 506.2 989.8 507.7 991.6 509.2 990.5 510.7 979.9 512.2 986.2 513.7 997.7 515.2 991.8 516.7 986.8 518.2 994.7 519.7 978.7 521.2 995.6 522.7 988.3 524.2 990.7 525.7 987.8 527.2 986.7 528.7 992.1 530.2 993.2 531.7 989.8 533.2 997.0 534.7 991.7 536.2 992.6 537.7 990.0 539.2 990.4 540.7 992.6 542.2 986.6 543.7 995.2 545.2 987.1 546.7 1001.9 548.2 988.2 549.7 993.3 551.2 992.6 552.7 999.4 554.2 1000.7 555.7 992.5 557.2 995.1 558.7 993.3 560.2 999.4 561.7 996.4 563.2 998.9 564.7 991.2 566.2 984.3 567.7 994.6 569.2 990.7 570.7 992.7 572.2 998.5 573.7 1000.3 575.2 994.6 576.7 999.1 578.2 995.6 579.7 997.7 581.2 993.7 582.7 998.9 584.2 990.6 585.7 993.2 587.2 1000.0 588.7 987.1 590.2 992.2 591.7 991.7 593.2 991.7 594.7 995.0 596.2 980.0 597.7 990.6 599.2 987.6 600.7 991.1 602.2 988.6 603.7 982.6 605.2 984.1 606.7 982.4 608.2 990.9 609.7 983.9 611.2 991.7 612.7 985.4 614.2 978.0 615.7 985.5 617.2 987.3 618.7 992.8 620.2 986.5 621.7 984.0 623.2 984.8 624.7 990.4 626.2 990.5 627.7 990.7 629.2 991.1 630.7 984.3 632.2 992.0 633.7 989.6 635.2 979.2 636.7 986.4 638.2 994.4 639.7 986.7 641.2 987.8 642.7 989.7 644.2 990.8 645.7 991.2 647.2 993.8 648.7 988.9 650.2 986.3 651.7 992.4 653.2 992.6 654.7 996.1 656.2 1000.8 657.7 999.7 659.2 994.9 660.7 998.9 662.2 996.2 663.7 995.9 665.2 990.4 666.7 992.5 668.2 992.3 669.7 993.9 671.2 1000.0 672.7 998.9 674.2 996.7 675.7 989.2 677.2 998.7 678.7 997.7 680.2 999.8 681.7 1000.4 683.2 993.8 684.7 997.9 686.2 987.4 687.7 989.9 689.2 1000.5 690.7 990.7 692.2 992.8 693.7 993.8 695.2 996.5 696.7 1001.6 698.2 995.2 699.7 1006.5 701.2 997.9 702.7 995.6 704.2 1003.8 705.7 1002.1 707.2 996.3 708.7 997.2 710.2 993.2 711.7 990.8 713.2 997.0 714.7 1002.3 716.2 987.4 717.7 996.0 719.2 1006.4 720.7 1005.0 722.2 1002.7 723.7 996.7 725.2 1006.0 726.7 996.8 728.2 1000.6 729.7 996.7 731.2 1002.2 732.7 1001.9 734.2 1017.4 735.7 997.3 737.2 994.5 738.7 999.8 740.2 1006.0 741.7 1000.9 743.2 1022.2 744.7 1000.5 746.2 1001.3 747.7 1006.2 749.2 1009.7 750.7 1002.9 752.2 1005.0 753.7 996.3 755.2 997.8 756.7 1004.2 758.2 1006.5 759.7 1005.7 761.2 1006.0 762.7 1007.5 764.2 1005.1 765.7 1002.7 767.2 1003.0 768.7 998.9 770.2 1001.4 771.7 1000.1 773.2 1005.4 774.7 1021.1 776.2 1006.3 777.7 1011.0 779.2 997.6 780.7 1001.6 782.2 999.0 783.7 1004.7 785.2 1009.3 786.7 1004.6 788.2 1002.0 789.7 1001.3 791.2 998.8 792.7 1004.3 794.2 1003.7 795.7 1002.7 797.2 998.3 798.7 1002.7 800.2 1002.6 801.7 999.5 803.2 1008.3 804.7 1011.4 806.2 1013.6 807.7 998.9 809.2 1001.6 810.7 1000.9 812.2 998.2 813.7 1003.0 815.2 1001.4 816.7 995.6 818.2 997.5 819.7 1001.1 821.2 999.2 822.7 1008.2 824.2 988.3 825.7 1003.5 827.2 1002.1 828.7 1001.2 830.2 995.6 831.7 996.2 833.2 989.7 834.7 1002.0 836.2 996.6 837.7 995.8 839.2 1006.5 840.7 994.4 842.2 998.8 843.7 1002.6 845.2 998.6 846.7 1001.7 848.2 1003.1 849.7 1000.1 851.2 1002.7 852.7 993.7 854.2 1005.6 855.7 1002.1 857.2 998.4 858.7 996.4 860.2 1005.5 861.7 996.3 863.2 993.3 864.7 1003.1 866.2 992.6 867.7 996.6 869.2 999.5 870.7 994.0 872.2 1011.0 873.7 1001.0 875.2 1002.5 876.7 998.7 878.2 1019.0 879.7 999.2 881.2 999.1 882.7 999.3 884.2 994.6 885.7 984.9 887.2 1003.0 888.7 987.4 890.2 987.1 891.7 998.8 893.2 993.8 894.7 1003.1 896.2 1002.5 897.7 1003.1 899.2 997.1 900.7 1000.2 902.2 992.8 903.7 1002.6 905.2 999.2 906.7 998.5 908.2 999.3 909.7 999.8 911.2 1000.7 912.7 1001.5 914.2 996.0 915.7 997.4 917.2 989.3 918.7 1003.6 920.2 997.7 921.7 994.4 923.2 988.0 924.7 998.7 926.2 989.6 927.7 997.2 929.2 995.1 930.7 1012.8 932.2 994.8 933.7 991.0 935.2 984.9 936.7 992.5 938.2 1003.2 939.7 997.1 941.2 995.4 942.7 1002.3 944.2 993.4 945.7 1005.0 947.2 989.3 948.7 990.0 950.2 1002.1 951.7 989.0 953.2 1001.4 954.7 994.4 956.2 1004.6 957.7 991.4 959.2 991.7 960.7 1000.8 962.2 990.2 963.7 995.4 965.2 989.5 966.7 998.5 968.2 994.0 969.7 988.6 971.2 994.9 972.7 990.3 974.2 1011.5 975.7 989.8 977.2 1007.0 978.7 1009.8 980.2 985.8 981.7 997.8 983.2 990.5 984.7 990.9 986.2 987.9 987.7 1002.1 989.2 984.3 990.7 1003.6 992.2 988.5 993.7 999.1 995.2 993.0 996.7 991.4 998.2 988.8 999.7 991.6 1001.2 995.6 1002.7 1001.9 1004.2 984.1 1005.7 995.0 1007.2 992.2 1008.7 989.0 1010.2 991.7 1011.7 991.7 1013.2 987.5 1014.7 988.1 1016.2 992.0 1017.7 988.1 1019.2 991.3 1020.7 983.9 1022.2 989.6 1023.7 991.7 1025.2 992.1 1026.7 991.3 1028.2 991.1 1029.7 989.2 1031.2 986.7 1032.7 987.3 1034.2 991.5 1035.7 984.0 1037.2 1007.2 1038.7 983.2 1040.2 989.9 1041.7 996.6 1043.2 999.5 1044.7 994.1 1046.2 991.0 1047.7 983.8 1049.2 992.1 1050.7 989.0 1052.2 983.4 1053.7 989.4 1055.2 997.3 1056.7 995.0 1058.2 993.9 1059.7 1004.6 1061.2 994.1 1062.7 993.7 1064.2 990.1 1065.7 992.0 1067.2 993.0 1068.7 986.4 1070.2 985.2 1071.7 997.9 1073.2 1003.2 1074.7 994.0 1076.2 990.1 1077.7 991.4 1079.2 994.4 1080.7 987.1 1082.2 994.6 1083.7 1000.5 1085.2 981.4 1086.7 987.7 1088.2 986.9 1089.7 983.3 1091.2 994.5 1092.7 986.4 1094.2 983.8 1095.7 990.2 1097.2 978.6 1098.7 993.6 1100.2 989.7 1101.7 984.5 1103.2 980.1 1104.7 980.7 1106.2 994.6 1107.7 994.4 1109.2 992.8 1110.7 993.0 1112.2 982.4 1113.7 988.2 1115.2 993.0 1116.7 991.0 1118.2 994.1 1119.7 987.7 1121.2 986.5 1122.7 995.2 1124.2 988.9 1125.7 988.0 1127.2 993.1 1128.7 983.8 1130.2 999.1 1131.7 991.6 1133.2 987.3 1134.7 992.7 1136.2 990.9 1137.7 979.2 1139.2 984.9 1140.7 993.3 1142.2 987.0 1143.7 992.6 1145.2 980.6 1146.7 983.5 1148.2 981.1 1149.7 990.3 1151.2 979.0 1152.7 980.0 1154.2 989.5 1155.7 978.2 1157.2 983.3 1158.7 990.0 1160.2 996.8 1161.7 994.5 1163.2 989.9 1164.7 984.0 1166.2 985.3 1167.7 990.1 1169.2 984.8 1170.7 976.0 1172.2 985.7 1173.7 983.0 1175.2 970.3 1176.7 984.2 1178.2 981.9 1179.7 986.1 1181.2 984.3 1182.7 1002.5 1184.2 989.9 1185.7 980.4 1187.2 981.3 1188.7 982.6 1190.2 990.7 1191.7 985.4 1193.2 984.3 1194.7 986.2 1196.2 985.4 1197.7 982.6 1199.2 982.9 1200.7 983.1 1202.2 977.2 1203.7 991.9 1205.2 977.6 1206.7 987.8 1208.2 977.9 1209.7 987.9 1211.2 981.9 1212.7 984.3 1214.2 991.4 1215.7 984.0 1217.2 988.1 1218.7 977.9 1220.2 973.1 1221.7 985.2 1223.2 976.6 1224.7 986.0 1226.2 978.8 1227.7 983.8 1229.2 975.2 1230.7 975.6 1232.2 977.8 1233.7 974.0 1235.2 978.0 1236.7 989.0 1238.2 979.0 1239.7 983.4 1241.2 979.1 1242.7 972.8 1244.2 971.7 1245.7 982.5 1247.2 977.1 1248.7 981.6 1250.2 974.4 1251.7 969.8 1253.2 979.6 1254.7 977.1 1256.2 969.8 1257.7 980.2 1259.2 984.7"/>
</g>
<!-- frame -->
<g stroke="#000" fill="none">
<rect x="193.5" y="2.5" width="1082.2" height="1081.9" stroke-width="4.3"/>
<line x1="191.35" y1="1.2" x2="1277.85" y2="1.2" stroke-width="2.8"/>
<line x1="193.5" y1="363.2" x2="1275.7" y2="363.2" stroke-width="4.3"/>
<line x1="193.5" y1="723.5" x2="1275.7" y2="723.5" stroke-width="4.3"/>
</g>
<g stroke="#000" stroke-width="3.4" fill="none">
<line x1="178.0" y1="33.0" x2="193.5" y2="33.0"/>
<line x1="185.5" y1="123.0" x2="193.5" y2="123.0"/>
<line x1="178.0" y1="212.9" x2="193.5" y2="212.9"/>
<line x1="185.5" y1="302.8" x2="193.5" y2="302.8"/>
<line x1="178.0" y1="435.1" x2="193.5" y2="435.1"/>
<line x1="185.5" y1="525.4" x2="193.5" y2="525.4"/>
<line x1="178.0" y1="615.6" x2="193.5" y2="615.6"/>
<line x1="185.5" y1="705.6" x2="193.5" y2="705.6"/>
<line x1="185.5" y1="723.0" x2="193.5" y2="723.0"/>
<line x1="178.0" y1="844.0" x2="193.5" y2="844.0"/>
<line x1="185.5" y1="963.3" x2="193.5" y2="963.3"/>
<line x1="178.0" y1="1084.2" x2="193.5" y2="1084.2"/>
<line x1="193.2" y1="1084.0" x2="193.2" y2="1099.0"/>
<line x1="267.3" y1="1084.0" x2="267.3" y2="1091.5"/>
<line x1="341.4" y1="1084.0" x2="341.4" y2="1099.0"/>
<line x1="415.6" y1="1084.0" x2="415.6" y2="1091.5"/>
<line x1="489.7" y1="1084.0" x2="489.7" y2="1099.0"/>
<line x1="563.8" y1="1084.0" x2="563.8" y2="1091.5"/>
<line x1="637.9" y1="1084.0" x2="637.9" y2="1099.0"/>
<line x1="712.0" y1="1084.0" x2="712.0" y2="1091.5"/>
<line x1="786.2" y1="1084.0" x2="786.2" y2="1099.0"/>
<line x1="860.3" y1="1084.0" x2="860.3" y2="1091.5"/>
<line x1="934.4" y1="1084.0" x2="934.4" y2="1099.0"/>
<line x1="1008.5" y1="1084.0" x2="1008.5" y2="1091.5"/>
<line x1="1082.6" y1="1084.0" x2="1082.6" y2="1099.0"/>
<line x1="1156.8" y1="1084.0" x2="1156.8" y2="1091.5"/>
<line x1="1230.9" y1="1084.0" x2="1230.9" y2="1099.0"/>
</g>
<g fill="none">

<line x1="194" y1="1084" x2="194" y2="830" stroke="#f00" stroke-width="2.4"/>
<line x1="194.3" y1="1084" x2="194.3" y2="998" stroke="#f0f" stroke-width="2.4"/>
<line x1="194" y1="723" x2="194" y2="588" stroke="#f0f" stroke-width="2.4"/>
<line x1="194" y1="588" x2="194" y2="476" stroke="#00f" stroke-width="2.4"/>
<line x1="194" y1="476" x2="194" y2="420" stroke="#f00" stroke-width="2.4"/>

</g>
<!-- legend -->
<rect x="196.9" y="5.7" width="218" height="112.5" fill="#fff" stroke="#000" stroke-width="2.4"/>
<g stroke-width="2.4">
<line x1="212.5" y1="22.5" x2="263" y2="22.5" stroke="#000"/>
<line x1="212.5" y1="49.7" x2="263" y2="49.7" stroke="#f00"/>
<line x1="212.5" y1="77.8" x2="263" y2="77.8" stroke="#00f"/>
<line x1="212.5" y1="105.9" x2="263" y2="105.9" stroke="#f0f"/>
</g>
<g font-size="22">
<text x="269.5" y="30.3">First aliquot</text>
<text x="269.5" y="57.8">Second aliquot</text>
<text x="269.5" y="85.3">Third aliquot</text>
<text x="269.5" y="112.8">Fourth aliquot</text>
</g>
<!-- tick labels -->
<g font-size="30.5">
<text x="166.8" y="42.3" text-anchor="end">-0.0006</text>
<text x="166.8" y="222.2" text-anchor="end">-0.0012</text>
<text x="166.8" y="444.4" text-anchor="end">-0.0005</text>
<text x="166.8" y="624.9" text-anchor="end">-0.0010</text>
<text x="166.8" y="853.3" text-anchor="end">-0.0002</text>
<text x="166.8" y="1093.5" text-anchor="end">-0.0004</text>
<text x="193.2" y="1134" text-anchor="middle">0</text>
<text x="341.4" y="1134" text-anchor="middle">1000</text>
<text x="489.7" y="1134" text-anchor="middle">2000</text>
<text x="637.9" y="1134" text-anchor="middle">3000</text>
<text x="786.2" y="1134" text-anchor="middle">4000</text>
<text x="934.4" y="1134" text-anchor="middle">5000</text>
<text x="1082.6" y="1134" text-anchor="middle">6000</text>
<text x="1230.9" y="1134" text-anchor="middle">7000</text>
</g>
<!-- panel labels -->
<g font-size="37.5" text-anchor="end">
<text x="1240.3" y="344.8">0.0 V</text>
<text x="1242" y="708.9">0.4 V</text>
<text x="1241.5" y="1070.6">0.7 V</text>
</g>
<!-- axis titles -->
<g font-size="44">
<text x="735" y="1201" text-anchor="middle" font-size="45">Time (s)</text>
<text transform="translate(38.5 526.5) rotate(-90)" text-anchor="middle" font-size="46">Current (A)</text>
</g>
</svg>
</body>
</html>
